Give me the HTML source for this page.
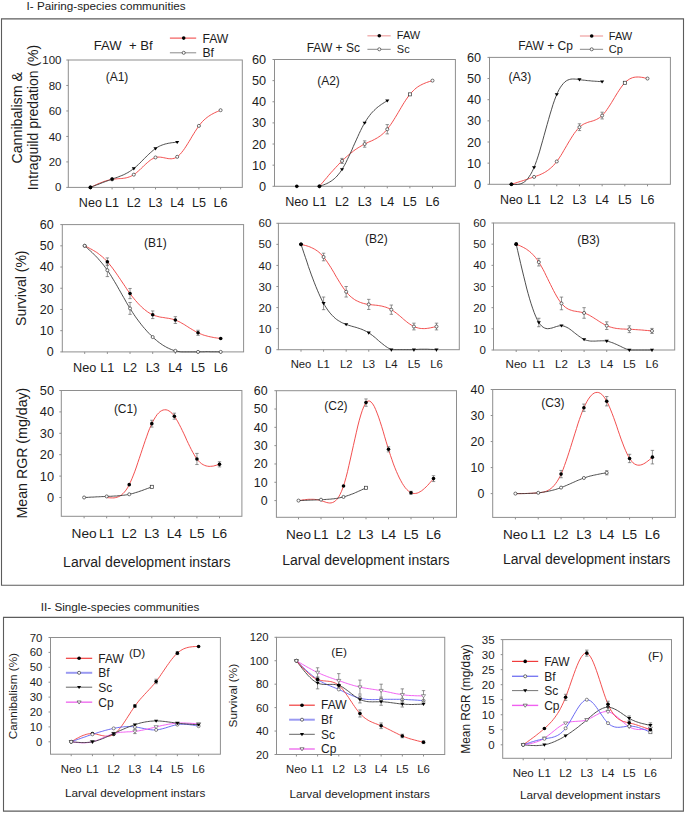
<!DOCTYPE html>
<html><head><meta charset="utf-8"><title>Figure</title>
<style>html,body{margin:0;padding:0;background:#fff;}svg{display:block;}text{font-family:"Liberation Sans", sans-serif;}</style>
</head><body>
<svg width="685" height="813" viewBox="0 0 685 813" font-family='"Liberation Sans", sans-serif'>
<rect width="685" height="813" fill="#fff"/>
<path d="M1.5,18.9V585.3H683.5V18.9Z" fill="none" stroke="#5c5c5c" stroke-width="1.1"/>
<path d="M3.5,617.4V811.1H683.4V617.4Z" fill="none" stroke="#5c5c5c" stroke-width="1.1"/>
<text x="26.50" y="9.60" font-size="11.7" text-anchor="start" fill="#1c1c1c">I- Pairing-species communities</text>
<text x="40.80" y="610.50" font-size="11.7" text-anchor="start" fill="#1c1c1c">II- Single-species communities</text>
<rect x="68.30" y="60.00" width="174.00" height="127.40" fill="none" stroke="#8e8e8e" stroke-width="1"/>
<line x1="66.30" y1="187.40" x2="68.30" y2="187.40" stroke="#8e8e8e" stroke-width="1"/>
<text x="61.46" y="191.47" font-size="11.5" text-anchor="end" fill="#1c1c1c">0</text>
<line x1="66.30" y1="161.92" x2="68.30" y2="161.92" stroke="#8e8e8e" stroke-width="1"/>
<text x="61.46" y="165.99" font-size="11.5" text-anchor="end" fill="#1c1c1c">20</text>
<line x1="66.30" y1="136.44" x2="68.30" y2="136.44" stroke="#8e8e8e" stroke-width="1"/>
<text x="61.46" y="140.51" font-size="11.5" text-anchor="end" fill="#1c1c1c">40</text>
<line x1="66.30" y1="110.96" x2="68.30" y2="110.96" stroke="#8e8e8e" stroke-width="1"/>
<text x="61.46" y="115.03" font-size="11.5" text-anchor="end" fill="#1c1c1c">60</text>
<line x1="66.30" y1="85.48" x2="68.30" y2="85.48" stroke="#8e8e8e" stroke-width="1"/>
<text x="61.46" y="89.55" font-size="11.5" text-anchor="end" fill="#1c1c1c">80</text>
<line x1="66.30" y1="60.00" x2="68.30" y2="60.00" stroke="#8e8e8e" stroke-width="1"/>
<text x="61.46" y="64.07" font-size="11.5" text-anchor="end" fill="#1c1c1c">100</text>
<line x1="90.40" y1="187.40" x2="90.40" y2="189.40" stroke="#8e8e8e" stroke-width="1"/>
<text x="90.40" y="207.10" font-size="12.6" text-anchor="middle" fill="#1c1c1c">Neo</text>
<line x1="112.10" y1="187.40" x2="112.10" y2="189.40" stroke="#8e8e8e" stroke-width="1"/>
<text x="112.10" y="207.10" font-size="12.6" text-anchor="middle" fill="#1c1c1c">L1</text>
<line x1="133.80" y1="187.40" x2="133.80" y2="189.40" stroke="#8e8e8e" stroke-width="1"/>
<text x="133.80" y="207.10" font-size="12.6" text-anchor="middle" fill="#1c1c1c">L2</text>
<line x1="155.50" y1="187.40" x2="155.50" y2="189.40" stroke="#8e8e8e" stroke-width="1"/>
<text x="155.50" y="207.10" font-size="12.6" text-anchor="middle" fill="#1c1c1c">L3</text>
<line x1="177.20" y1="187.40" x2="177.20" y2="189.40" stroke="#8e8e8e" stroke-width="1"/>
<text x="177.20" y="207.10" font-size="12.6" text-anchor="middle" fill="#1c1c1c">L4</text>
<line x1="198.90" y1="187.40" x2="198.90" y2="189.40" stroke="#8e8e8e" stroke-width="1"/>
<text x="198.90" y="207.10" font-size="12.6" text-anchor="middle" fill="#1c1c1c">L5</text>
<line x1="220.60" y1="187.40" x2="220.60" y2="189.40" stroke="#8e8e8e" stroke-width="1"/>
<text x="220.60" y="207.10" font-size="12.6" text-anchor="middle" fill="#1c1c1c">L6</text>
<path d="M90.4,187.4L91.9,186.7L93.4,186.0L94.9,185.3L96.4,184.6L97.9,183.9L99.4,183.3L100.9,182.7L102.4,182.1L103.9,181.5L105.4,181.0L106.9,180.6L108.4,180.2L109.9,179.8L111.4,179.5L112.8,179.3L114.3,179.1L115.8,178.9L117.3,178.8L118.8,178.7L120.3,178.6L121.8,178.5L123.3,178.3L124.8,178.1L126.3,177.8L127.8,177.4L129.3,176.9L130.8,176.3L132.3,175.5L133.8,174.7L135.3,173.6L136.8,172.4L138.3,171.1L139.8,169.8L141.3,168.3L142.8,166.9L144.3,165.4L145.8,164.0L147.3,162.7L148.8,161.4L150.3,160.2L151.8,159.2L153.3,158.4L154.8,157.7L156.2,157.3L157.7,157.1L159.2,157.1L160.7,157.2L162.2,157.4L163.7,157.7L165.2,158.0L166.7,158.3L168.2,158.6L169.7,158.7L171.2,158.8L172.7,158.6L174.2,158.3L175.7,157.7L177.2,156.8L178.7,155.6L180.2,154.2L181.7,152.4L183.2,150.5L184.7,148.4L186.2,146.1L187.7,143.7L189.2,141.3L190.7,138.8L192.2,136.2L193.7,133.8L195.2,131.4L196.7,129.1L198.2,126.9L199.6,124.9L201.1,123.1L202.6,121.4L204.1,119.9L205.6,118.6L207.1,117.4L208.6,116.3L210.1,115.3L211.6,114.4L213.1,113.6L214.6,112.8L216.1,112.1L217.6,111.5L219.1,110.8L220.6,110.2" fill="none" stroke="#f03c3c" stroke-width="0.9"/>
<path d="M90.4,187.4L91.9,186.8L93.4,186.2L94.9,185.6L96.4,185.0L97.9,184.5L99.4,183.9L100.9,183.3L102.4,182.7L103.9,182.1L105.4,181.6L106.9,181.0L108.4,180.5L109.9,179.9L111.4,179.4L112.8,178.9L114.3,178.3L115.8,177.8L117.3,177.3L118.8,176.7L120.3,176.1L121.8,175.5L123.3,174.9L124.8,174.2L126.3,173.4L127.8,172.6L129.3,171.7L130.8,170.7L132.3,169.7L133.8,168.5L135.3,167.3L136.8,166.0L138.3,164.6L139.8,163.1L141.3,161.7L142.8,160.1L144.3,158.6L145.8,157.1L147.3,155.6L148.8,154.2L150.3,152.8L151.8,151.5L153.3,150.2L154.8,149.1L156.2,148.0L157.7,147.1L159.2,146.3L160.7,145.6L162.2,145.0L163.7,144.5L165.2,144.0L166.7,143.7L168.2,143.3L169.7,143.1L171.2,142.8L172.7,142.6L174.2,142.5L175.7,142.3L177.2,142.2" fill="none" stroke="#3a3a3a" stroke-width="0.9"/>
<circle cx="90.40" cy="187.40" r="1.80" fill="#000"/>
<circle cx="112.10" cy="179.37" r="1.53" fill="#fff" stroke="#333" stroke-width="0.7"/>
<circle cx="133.80" cy="174.66" r="1.53" fill="#fff" stroke="#333" stroke-width="0.7"/>
<circle cx="155.50" cy="157.46" r="1.53" fill="#fff" stroke="#333" stroke-width="0.7"/>
<circle cx="177.20" cy="156.82" r="1.53" fill="#fff" stroke="#333" stroke-width="0.7"/>
<circle cx="198.90" cy="125.87" r="1.53" fill="#fff" stroke="#333" stroke-width="0.7"/>
<circle cx="220.60" cy="110.20" r="1.53" fill="#fff" stroke="#333" stroke-width="0.7"/>
<circle cx="90.40" cy="187.40" r="1.80" fill="#000"/>
<circle cx="112.10" cy="179.12" r="1.80" fill="#000"/>
<path d="M131.73,167.30L135.87,167.30L133.80,170.41Z" fill="#000"/>
<path d="M153.43,147.30L157.57,147.30L155.50,150.41Z" fill="#000"/>
<path d="M175.13,140.93L179.27,140.93L177.20,144.04Z" fill="#000"/>
<text x="105.68" y="81.10" font-size="12" text-anchor="start" fill="#1c1c1c">(A1)</text>
<rect x="274.50" y="59.50" width="180.90" height="126.80" fill="none" stroke="#8e8e8e" stroke-width="1"/>
<line x1="272.50" y1="186.30" x2="274.50" y2="186.30" stroke="#8e8e8e" stroke-width="1"/>
<text x="266.11" y="190.80" font-size="12.7" text-anchor="end" fill="#1c1c1c">0</text>
<line x1="272.50" y1="165.17" x2="274.50" y2="165.17" stroke="#8e8e8e" stroke-width="1"/>
<text x="266.11" y="169.66" font-size="12.7" text-anchor="end" fill="#1c1c1c">10</text>
<line x1="272.50" y1="144.03" x2="274.50" y2="144.03" stroke="#8e8e8e" stroke-width="1"/>
<text x="266.11" y="148.53" font-size="12.7" text-anchor="end" fill="#1c1c1c">20</text>
<line x1="272.50" y1="122.90" x2="274.50" y2="122.90" stroke="#8e8e8e" stroke-width="1"/>
<text x="266.11" y="127.40" font-size="12.7" text-anchor="end" fill="#1c1c1c">30</text>
<line x1="272.50" y1="101.77" x2="274.50" y2="101.77" stroke="#8e8e8e" stroke-width="1"/>
<text x="266.11" y="106.26" font-size="12.7" text-anchor="end" fill="#1c1c1c">40</text>
<line x1="272.50" y1="80.63" x2="274.50" y2="80.63" stroke="#8e8e8e" stroke-width="1"/>
<text x="266.11" y="85.13" font-size="12.7" text-anchor="end" fill="#1c1c1c">50</text>
<line x1="272.50" y1="59.50" x2="274.50" y2="59.50" stroke="#8e8e8e" stroke-width="1"/>
<text x="266.11" y="64.00" font-size="12.7" text-anchor="end" fill="#1c1c1c">60</text>
<line x1="296.80" y1="186.30" x2="296.80" y2="188.30" stroke="#8e8e8e" stroke-width="1"/>
<text x="296.80" y="206.00" font-size="12.6" text-anchor="middle" fill="#1c1c1c">Neo</text>
<line x1="319.42" y1="186.30" x2="319.42" y2="188.30" stroke="#8e8e8e" stroke-width="1"/>
<text x="319.42" y="206.00" font-size="12.6" text-anchor="middle" fill="#1c1c1c">L1</text>
<line x1="342.03" y1="186.30" x2="342.03" y2="188.30" stroke="#8e8e8e" stroke-width="1"/>
<text x="342.03" y="206.00" font-size="12.6" text-anchor="middle" fill="#1c1c1c">L2</text>
<line x1="364.65" y1="186.30" x2="364.65" y2="188.30" stroke="#8e8e8e" stroke-width="1"/>
<text x="364.65" y="206.00" font-size="12.6" text-anchor="middle" fill="#1c1c1c">L3</text>
<line x1="387.27" y1="186.30" x2="387.27" y2="188.30" stroke="#8e8e8e" stroke-width="1"/>
<text x="387.27" y="206.00" font-size="12.6" text-anchor="middle" fill="#1c1c1c">L4</text>
<line x1="409.88" y1="186.30" x2="409.88" y2="188.30" stroke="#8e8e8e" stroke-width="1"/>
<text x="409.88" y="206.00" font-size="12.6" text-anchor="middle" fill="#1c1c1c">L5</text>
<line x1="432.50" y1="186.30" x2="432.50" y2="188.30" stroke="#8e8e8e" stroke-width="1"/>
<text x="432.50" y="206.00" font-size="12.6" text-anchor="middle" fill="#1c1c1c">L6</text>
<path d="M319.4,186.3L320.9,184.5L322.4,182.8L323.9,181.0L325.4,179.2L326.9,177.5L328.3,175.7L329.8,174.0L331.3,172.3L332.8,170.7L334.3,169.0L335.8,167.4L337.3,165.8L338.8,164.2L340.2,162.7L341.7,161.2L343.2,159.8L344.7,158.4L346.2,157.0L347.7,155.7L349.2,154.5L350.7,153.2L352.2,152.1L353.6,150.9L355.1,149.8L356.6,148.8L358.1,147.8L359.6,146.9L361.1,146.0L362.6,145.1L364.1,144.3L365.5,143.6L367.0,142.9L368.5,142.2L370.0,141.5L371.5,140.9L373.0,140.2L374.5,139.4L376.0,138.6L377.4,137.8L378.9,136.8L380.4,135.8L381.9,134.6L383.4,133.3L384.9,131.9L386.4,130.3L387.9,128.5L389.3,126.5L390.8,124.4L392.3,122.2L393.8,119.8L395.3,117.4L396.8,114.9L398.3,112.4L399.8,109.8L401.3,107.3L402.7,104.9L404.2,102.5L405.7,100.2L407.2,98.0L408.7,95.9L410.2,94.0L411.7,92.3L413.2,90.8L414.6,89.4L416.1,88.1L417.6,87.0L419.1,86.0L420.6,85.2L422.1,84.4L423.6,83.7L425.1,83.1L426.5,82.5L428.0,82.0L429.5,81.5L431.0,81.1L432.5,80.6" fill="none" stroke="#f03c3c" stroke-width="0.9"/>
<path d="M319.4,186.3L320.9,185.8L322.4,185.3L323.8,184.8L325.3,184.2L326.8,183.6L328.3,182.8L329.7,182.0L331.2,181.1L332.7,180.0L334.2,178.8L335.6,177.5L337.1,176.0L338.6,174.2L340.1,172.3L341.5,170.2L343.0,167.8L344.5,165.2L346.0,162.4L347.4,159.4L348.9,156.3L350.4,153.1L351.9,149.9L353.3,146.5L354.8,143.2L356.3,139.9L357.8,136.6L359.2,133.5L360.7,130.4L362.2,127.4L363.7,124.6L365.1,122.1L366.6,119.7L368.1,117.5L369.6,115.5L371.0,113.7L372.5,112.0L374.0,110.5L375.5,109.1L376.9,107.8L378.4,106.6L379.9,105.5L381.4,104.4L382.8,103.5L384.3,102.5L385.8,101.6L387.3,100.7" fill="none" stroke="#3a3a3a" stroke-width="0.9"/>
<path d="M296.8,186.3" fill="none" stroke="#3a3a3a" stroke-width="0.9"/>
<path d="M342.03,158.40V163.48M340.33,158.40H343.73M340.33,163.48H343.73" stroke="#666" stroke-width="0.7" fill="none"/>
<path d="M364.65,140.86V147.20M362.95,140.86H366.35M362.95,147.20H366.35" stroke="#666" stroke-width="0.7" fill="none"/>
<path d="M387.27,124.59V133.89M385.57,124.59H388.97M385.57,133.89H388.97" stroke="#666" stroke-width="0.7" fill="none"/>
<circle cx="319.42" cy="186.30" r="1.53" fill="#fff" stroke="#333" stroke-width="0.7"/>
<circle cx="342.03" cy="160.94" r="1.53" fill="#fff" stroke="#333" stroke-width="0.7"/>
<circle cx="364.65" cy="144.03" r="1.53" fill="#fff" stroke="#333" stroke-width="0.7"/>
<circle cx="387.27" cy="129.24" r="1.53" fill="#fff" stroke="#333" stroke-width="0.7"/>
<rect x="408.35" y="92.84" width="3.06" height="3.06" fill="#fff" stroke="#333" stroke-width="0.7"/>
<circle cx="432.50" cy="80.63" r="1.53" fill="#fff" stroke="#333" stroke-width="0.7"/>
<circle cx="319.42" cy="186.30" r="1.80" fill="#000"/>
<path d="M339.96,168.15L344.10,168.15L342.03,171.26Z" fill="#000"/>
<path d="M362.58,121.66L366.72,121.66L364.65,124.76Z" fill="#000"/>
<path d="M385.20,99.47L389.34,99.47L387.27,102.57Z" fill="#000"/>
<circle cx="296.80" cy="186.30" r="1.80" fill="#000"/>
<text x="317.18" y="85.10" font-size="12" text-anchor="start" fill="#1c1c1c">(A2)</text>
<rect x="489.50" y="57.40" width="180.90" height="126.90" fill="none" stroke="#8e8e8e" stroke-width="1"/>
<line x1="487.50" y1="184.30" x2="489.50" y2="184.30" stroke="#8e8e8e" stroke-width="1"/>
<text x="481.11" y="188.80" font-size="12.7" text-anchor="end" fill="#1c1c1c">0</text>
<line x1="487.50" y1="163.15" x2="489.50" y2="163.15" stroke="#8e8e8e" stroke-width="1"/>
<text x="481.11" y="167.65" font-size="12.7" text-anchor="end" fill="#1c1c1c">10</text>
<line x1="487.50" y1="142.00" x2="489.50" y2="142.00" stroke="#8e8e8e" stroke-width="1"/>
<text x="481.11" y="146.50" font-size="12.7" text-anchor="end" fill="#1c1c1c">20</text>
<line x1="487.50" y1="120.85" x2="489.50" y2="120.85" stroke="#8e8e8e" stroke-width="1"/>
<text x="481.11" y="125.35" font-size="12.7" text-anchor="end" fill="#1c1c1c">30</text>
<line x1="487.50" y1="99.70" x2="489.50" y2="99.70" stroke="#8e8e8e" stroke-width="1"/>
<text x="481.11" y="104.20" font-size="12.7" text-anchor="end" fill="#1c1c1c">40</text>
<line x1="487.50" y1="78.55" x2="489.50" y2="78.55" stroke="#8e8e8e" stroke-width="1"/>
<text x="481.11" y="83.05" font-size="12.7" text-anchor="end" fill="#1c1c1c">50</text>
<line x1="487.50" y1="57.40" x2="489.50" y2="57.40" stroke="#8e8e8e" stroke-width="1"/>
<text x="481.11" y="61.90" font-size="12.7" text-anchor="end" fill="#1c1c1c">60</text>
<line x1="511.40" y1="184.30" x2="511.40" y2="186.30" stroke="#8e8e8e" stroke-width="1"/>
<text x="511.40" y="204.00" font-size="12.4" text-anchor="middle" fill="#1c1c1c">Neo</text>
<line x1="534.08" y1="184.30" x2="534.08" y2="186.30" stroke="#8e8e8e" stroke-width="1"/>
<text x="534.08" y="204.00" font-size="12.4" text-anchor="middle" fill="#1c1c1c">L1</text>
<line x1="556.77" y1="184.30" x2="556.77" y2="186.30" stroke="#8e8e8e" stroke-width="1"/>
<text x="556.77" y="204.00" font-size="12.4" text-anchor="middle" fill="#1c1c1c">L2</text>
<line x1="579.45" y1="184.30" x2="579.45" y2="186.30" stroke="#8e8e8e" stroke-width="1"/>
<text x="579.45" y="204.00" font-size="12.4" text-anchor="middle" fill="#1c1c1c">L3</text>
<line x1="602.13" y1="184.30" x2="602.13" y2="186.30" stroke="#8e8e8e" stroke-width="1"/>
<text x="602.13" y="204.00" font-size="12.4" text-anchor="middle" fill="#1c1c1c">L4</text>
<line x1="624.82" y1="184.30" x2="624.82" y2="186.30" stroke="#8e8e8e" stroke-width="1"/>
<text x="624.82" y="204.00" font-size="12.4" text-anchor="middle" fill="#1c1c1c">L5</text>
<line x1="647.50" y1="184.30" x2="647.50" y2="186.30" stroke="#8e8e8e" stroke-width="1"/>
<text x="647.50" y="204.00" font-size="12.4" text-anchor="middle" fill="#1c1c1c">L6</text>
<path d="M511.4,184.3L512.9,183.8L514.4,183.4L515.9,182.9L517.4,182.4L518.9,181.9L520.4,181.4L521.9,181.0L523.4,180.5L524.9,180.0L526.4,179.5L527.9,179.0L529.3,178.5L530.8,178.0L532.3,177.5L533.8,177.0L535.3,176.5L536.8,175.9L538.3,175.4L539.8,174.8L541.3,174.1L542.8,173.4L544.3,172.6L545.8,171.7L547.3,170.7L548.8,169.6L550.3,168.4L551.8,167.1L553.3,165.6L554.8,163.9L556.3,162.1L557.8,160.1L559.3,157.9L560.8,155.6L562.3,153.2L563.7,150.7L565.2,148.2L566.7,145.6L568.2,143.0L569.7,140.5L571.2,138.1L572.7,135.7L574.2,133.5L575.7,131.5L577.2,129.6L578.7,127.9L580.2,126.5L581.7,125.4L583.2,124.4L584.7,123.6L586.2,123.0L587.7,122.4L589.2,121.9L590.7,121.5L592.2,121.1L593.7,120.6L595.2,120.0L596.6,119.4L598.1,118.6L599.6,117.6L601.1,116.5L602.6,115.1L604.1,113.4L605.6,111.5L607.1,109.4L608.6,107.2L610.1,104.9L611.6,102.5L613.1,100.0L614.6,97.5L616.1,95.0L617.6,92.6L619.1,90.3L620.6,88.1L622.1,86.0L623.6,84.2L625.1,82.5L626.6,81.1L628.1,80.0L629.6,79.0L631.0,78.3L632.5,77.7L634.0,77.3L635.5,77.1L637.0,77.0L638.5,77.0L640.0,77.1L641.5,77.3L643.0,77.5L644.5,77.9L646.0,78.2L647.5,78.6" fill="none" stroke="#f03c3c" stroke-width="0.9"/>
<path d="M511.4,184.3L512.9,184.4L514.4,184.5L515.9,184.5L517.3,184.5L518.8,184.3L520.3,183.9L521.8,183.4L523.3,182.6L524.8,181.6L526.3,180.3L527.8,178.6L529.2,176.6L530.7,174.3L532.2,171.5L533.7,168.3L535.2,164.6L536.7,160.4L538.2,155.9L539.7,151.1L541.1,146.0L542.6,140.8L544.1,135.4L545.6,130.0L547.1,124.6L548.6,119.3L550.1,114.1L551.6,109.2L553.0,104.5L554.5,100.2L556.0,96.2L557.5,92.7L559.0,89.7L560.5,87.2L562.0,85.1L563.5,83.3L564.9,81.9L566.4,80.8L567.9,80.0L569.4,79.5L570.9,79.1L572.4,79.0L573.9,79.0L575.4,79.1L576.8,79.2L578.3,79.4L579.8,79.7L581.3,79.9L582.8,80.1L584.3,80.2L585.8,80.4L587.3,80.6L588.7,80.7L590.2,80.8L591.7,81.0L593.2,81.1L594.7,81.2L596.2,81.3L597.7,81.4L599.2,81.5L600.6,81.6L602.1,81.7" fill="none" stroke="#3a3a3a" stroke-width="0.9"/>
<path d="M579.45,123.81V130.58M577.75,123.81H581.15M577.75,130.58H581.15" stroke="#666" stroke-width="0.7" fill="none"/>
<path d="M602.13,112.18V118.95M600.43,112.18H603.83M600.43,118.95H603.83" stroke="#666" stroke-width="0.7" fill="none"/>
<circle cx="511.40" cy="184.30" r="1.80" fill="#000"/>
<circle cx="534.08" cy="176.90" r="1.53" fill="#fff" stroke="#333" stroke-width="0.7"/>
<circle cx="556.77" cy="161.46" r="1.53" fill="#fff" stroke="#333" stroke-width="0.7"/>
<circle cx="579.45" cy="127.20" r="1.53" fill="#fff" stroke="#333" stroke-width="0.7"/>
<circle cx="602.13" cy="115.56" r="1.53" fill="#fff" stroke="#333" stroke-width="0.7"/>
<rect x="623.29" y="81.25" width="3.06" height="3.06" fill="#fff" stroke="#333" stroke-width="0.7"/>
<circle cx="647.50" cy="78.55" r="1.53" fill="#fff" stroke="#333" stroke-width="0.7"/>
<circle cx="511.40" cy="184.30" r="1.80" fill="#000"/>
<path d="M532.01,166.14L536.15,166.14L534.08,169.24Z" fill="#000"/>
<path d="M554.70,93.17L558.84,93.17L556.77,96.28Z" fill="#000"/>
<path d="M577.38,78.37L581.52,78.37L579.45,81.47Z" fill="#000"/>
<path d="M600.06,80.48L604.20,80.48L602.13,83.59Z" fill="#000"/>
<text x="508.58" y="81.30" font-size="12" text-anchor="start" fill="#1c1c1c">(A3)</text>
<text x="93.80" y="49.50" font-size="13.1" text-anchor="start" fill="#1c1c1c">FAW&#160; + Bf</text>
<line x1="169.90" y1="38.10" x2="196.20" y2="38.10" stroke="#f03c3c" stroke-width="1"/>
<circle cx="183.70" cy="38.10" r="1.80" fill="#000"/>
<text x="202.42" y="42.50" font-size="12.2" text-anchor="start" fill="#1c1c1c">FAW</text>
<line x1="169.90" y1="52.80" x2="196.20" y2="52.80" stroke="#8a8a8a" stroke-width="1"/>
<circle cx="183.70" cy="52.80" r="1.53" fill="#fff" stroke="#333" stroke-width="0.7"/>
<text x="202.42" y="57.20" font-size="12.2" text-anchor="start" fill="#1c1c1c">Bf</text>
<text x="306.70" y="52.10" font-size="12.0" text-anchor="start" fill="#1c1c1c">FAW + Sc</text>
<line x1="367.40" y1="35.80" x2="390.70" y2="35.80" stroke="#f0a8a8" stroke-width="1.3"/>
<circle cx="379.30" cy="35.80" r="1.80" fill="#000"/>
<text x="396.82" y="39.40" font-size="11.0" text-anchor="start" fill="#1c1c1c">FAW</text>
<line x1="367.40" y1="49.30" x2="390.70" y2="49.30" stroke="#888" stroke-width="1"/>
<circle cx="379.30" cy="49.30" r="1.53" fill="#fff" stroke="#333" stroke-width="0.7"/>
<text x="396.82" y="52.90" font-size="11.0" text-anchor="start" fill="#1c1c1c">Sc</text>
<text x="518.30" y="50.20" font-size="12.0" text-anchor="start" fill="#1c1c1c">FAW + Cp</text>
<line x1="579.90" y1="36.00" x2="603.10" y2="36.00" stroke="#f0a8a8" stroke-width="1.3"/>
<circle cx="591.70" cy="36.00" r="1.80" fill="#000"/>
<text x="608.82" y="39.60" font-size="11.0" text-anchor="start" fill="#1c1c1c">FAW</text>
<line x1="579.90" y1="49.30" x2="603.10" y2="49.30" stroke="#888" stroke-width="1"/>
<circle cx="591.70" cy="49.30" r="1.53" fill="#fff" stroke="#333" stroke-width="0.7"/>
<text x="608.82" y="52.90" font-size="11.0" text-anchor="start" fill="#1c1c1c">Cp</text>
<text x="22.00" y="117.80" font-size="14.2" text-anchor="middle" fill="#1c1c1c" transform="rotate(-90 22.00 117.80)">Cannibalism &amp;</text>
<text x="37.60" y="117.60" font-size="14.0" text-anchor="middle" fill="#1c1c1c" transform="rotate(-90 37.60 117.60)">Intraguild predation (%)</text>
<rect x="62.30" y="224.60" width="181.30" height="127.30" fill="none" stroke="#8e8e8e" stroke-width="1"/>
<line x1="60.30" y1="351.90" x2="62.30" y2="351.90" stroke="#8e8e8e" stroke-width="1"/>
<text x="53.60" y="356.32" font-size="12.5" text-anchor="end" fill="#1c1c1c">0</text>
<line x1="60.30" y1="330.68" x2="62.30" y2="330.68" stroke="#8e8e8e" stroke-width="1"/>
<text x="53.60" y="335.11" font-size="12.5" text-anchor="end" fill="#1c1c1c">10</text>
<line x1="60.30" y1="309.47" x2="62.30" y2="309.47" stroke="#8e8e8e" stroke-width="1"/>
<text x="53.60" y="313.89" font-size="12.5" text-anchor="end" fill="#1c1c1c">20</text>
<line x1="60.30" y1="288.25" x2="62.30" y2="288.25" stroke="#8e8e8e" stroke-width="1"/>
<text x="53.60" y="292.68" font-size="12.5" text-anchor="end" fill="#1c1c1c">30</text>
<line x1="60.30" y1="267.03" x2="62.30" y2="267.03" stroke="#8e8e8e" stroke-width="1"/>
<text x="53.60" y="271.46" font-size="12.5" text-anchor="end" fill="#1c1c1c">40</text>
<line x1="60.30" y1="245.82" x2="62.30" y2="245.82" stroke="#8e8e8e" stroke-width="1"/>
<text x="53.60" y="250.24" font-size="12.5" text-anchor="end" fill="#1c1c1c">50</text>
<line x1="60.30" y1="224.60" x2="62.30" y2="224.60" stroke="#8e8e8e" stroke-width="1"/>
<text x="53.60" y="229.03" font-size="12.5" text-anchor="end" fill="#1c1c1c">60</text>
<line x1="84.70" y1="351.90" x2="84.70" y2="353.90" stroke="#8e8e8e" stroke-width="1"/>
<text x="84.70" y="372.00" font-size="12.7" text-anchor="middle" fill="#1c1c1c">Neo</text>
<line x1="107.37" y1="351.90" x2="107.37" y2="353.90" stroke="#8e8e8e" stroke-width="1"/>
<text x="107.37" y="372.00" font-size="12.7" text-anchor="middle" fill="#1c1c1c">L1</text>
<line x1="130.03" y1="351.90" x2="130.03" y2="353.90" stroke="#8e8e8e" stroke-width="1"/>
<text x="130.03" y="372.00" font-size="12.7" text-anchor="middle" fill="#1c1c1c">L2</text>
<line x1="152.70" y1="351.90" x2="152.70" y2="353.90" stroke="#8e8e8e" stroke-width="1"/>
<text x="152.70" y="372.00" font-size="12.7" text-anchor="middle" fill="#1c1c1c">L3</text>
<line x1="175.37" y1="351.90" x2="175.37" y2="353.90" stroke="#8e8e8e" stroke-width="1"/>
<text x="175.37" y="372.00" font-size="12.7" text-anchor="middle" fill="#1c1c1c">L4</text>
<line x1="198.03" y1="351.90" x2="198.03" y2="353.90" stroke="#8e8e8e" stroke-width="1"/>
<text x="198.03" y="372.00" font-size="12.7" text-anchor="middle" fill="#1c1c1c">L5</text>
<line x1="220.70" y1="351.90" x2="220.70" y2="353.90" stroke="#8e8e8e" stroke-width="1"/>
<text x="220.70" y="372.00" font-size="12.7" text-anchor="middle" fill="#1c1c1c">L6</text>
<path d="M84.7,245.8L86.2,246.6L87.7,247.3L89.2,248.1L90.7,248.9L92.2,249.7L93.7,250.6L95.2,251.5L96.7,252.4L98.2,253.5L99.6,254.6L101.1,255.8L102.6,257.0L104.1,258.4L105.6,259.9L107.1,261.5L108.6,263.2L110.1,265.0L111.6,266.9L113.1,268.9L114.6,271.0L116.1,273.1L117.6,275.3L119.1,277.5L120.6,279.7L122.1,282.0L123.6,284.2L125.1,286.4L126.5,288.6L128.0,290.8L129.5,292.9L131.0,294.9L132.5,296.9L134.0,298.7L135.5,300.5L137.0,302.2L138.5,303.9L140.0,305.4L141.5,306.9L143.0,308.3L144.5,309.5L146.0,310.7L147.5,311.8L149.0,312.8L150.5,313.7L152.0,314.4L153.4,315.1L154.9,315.7L156.4,316.1L157.9,316.5L159.4,316.9L160.9,317.2L162.4,317.4L163.9,317.6L165.4,317.9L166.9,318.1L168.4,318.3L169.9,318.6L171.4,318.9L172.9,319.3L174.4,319.7L175.9,320.3L177.4,320.9L178.9,321.6L180.3,322.3L181.8,323.2L183.3,324.0L184.8,324.9L186.3,325.9L187.8,326.8L189.3,327.8L190.8,328.7L192.3,329.6L193.8,330.5L195.3,331.4L196.8,332.2L198.3,332.9L199.8,333.6L201.3,334.2L202.8,334.8L204.3,335.3L205.8,335.7L207.2,336.1L208.7,336.5L210.2,336.8L211.7,337.1L213.2,337.4L214.7,337.7L216.2,337.9L217.7,338.1L219.2,338.3L220.7,338.5" fill="none" stroke="#f03c3c" stroke-width="0.9"/>
<path d="M84.7,245.8L86.2,247.2L87.7,248.5L89.2,249.9L90.7,251.2L92.2,252.6L93.7,254.1L95.2,255.6L96.7,257.1L98.2,258.7L99.6,260.4L101.1,262.1L102.6,263.9L104.1,265.8L105.6,267.8L107.1,269.9L108.6,272.0L110.1,274.3L111.6,276.7L113.1,279.2L114.6,281.7L116.1,284.2L117.6,286.8L119.1,289.5L120.6,292.1L122.1,294.8L123.6,297.4L125.1,300.0L126.5,302.6L128.0,305.1L129.5,307.6L131.0,310.0L132.5,312.3L134.0,314.6L135.5,316.8L137.0,318.9L138.5,320.9L140.0,322.9L141.5,324.8L143.0,326.7L144.5,328.4L146.0,330.1L147.5,331.8L149.0,333.4L150.5,334.9L152.0,336.3L153.4,337.7L154.9,339.1L156.4,340.3L157.9,341.6L159.4,342.7L160.9,343.8L162.4,344.8L163.9,345.8L165.4,346.6L166.9,347.5L168.4,348.2L169.9,348.9L171.4,349.5L172.9,350.1L174.4,350.6L175.9,351.0L177.4,351.3L178.9,351.6L180.3,351.8L181.8,351.9L183.3,351.9L184.8,351.9L186.3,351.9L187.8,351.9L189.3,351.9L190.8,351.9L192.3,351.9L193.8,351.9L195.3,351.9L196.8,351.9L198.3,351.9L199.8,351.8L201.3,351.8L202.8,351.8L204.3,351.8L205.8,351.7L207.2,351.7L208.7,351.7L210.2,351.8L211.7,351.8L213.2,351.8L214.7,351.8L216.2,351.8L217.7,351.8L219.2,351.9L220.7,351.9" fill="none" stroke="#3a3a3a" stroke-width="0.9"/>
<path d="M107.37,257.91V265.55M105.67,257.91H109.07M105.67,265.55H109.07" stroke="#666" stroke-width="0.7" fill="none"/>
<path d="M130.03,288.46V298.65M128.33,288.46H131.73M128.33,298.65H131.73" stroke="#666" stroke-width="0.7" fill="none"/>
<path d="M152.70,310.95V318.59M151.00,310.95H154.40M151.00,318.59H154.40" stroke="#666" stroke-width="0.7" fill="none"/>
<path d="M175.37,316.68V323.47M173.67,316.68H177.07M173.67,323.47H177.07" stroke="#666" stroke-width="0.7" fill="none"/>
<path d="M198.03,330.26V335.35M196.33,330.26H199.73M196.33,335.35H199.73" stroke="#666" stroke-width="0.7" fill="none"/>
<circle cx="84.70" cy="245.82" r="1.53" fill="#fff" stroke="#333" stroke-width="0.7"/>
<circle cx="107.37" cy="261.73" r="1.80" fill="#000"/>
<circle cx="130.03" cy="293.55" r="1.80" fill="#000"/>
<circle cx="152.70" cy="314.77" r="1.80" fill="#000"/>
<circle cx="175.37" cy="320.07" r="1.80" fill="#000"/>
<circle cx="198.03" cy="332.81" r="1.80" fill="#000"/>
<circle cx="220.70" cy="338.53" r="1.80" fill="#000"/>
<path d="M107.37,263.85V276.58M105.67,263.85H109.07M105.67,276.58H109.07" stroke="#666" stroke-width="0.7" fill="none"/>
<path d="M130.03,302.47V314.35M128.33,302.47H131.73M128.33,314.35H131.73" stroke="#666" stroke-width="0.7" fill="none"/>
<circle cx="84.70" cy="245.82" r="1.53" fill="#fff" stroke="#333" stroke-width="0.7"/>
<circle cx="107.37" cy="270.22" r="1.53" fill="#fff" stroke="#333" stroke-width="0.7"/>
<circle cx="130.03" cy="308.41" r="1.53" fill="#fff" stroke="#333" stroke-width="0.7"/>
<circle cx="152.70" cy="337.05" r="1.53" fill="#fff" stroke="#333" stroke-width="0.7"/>
<circle cx="175.37" cy="350.84" r="1.53" fill="#fff" stroke="#333" stroke-width="0.7"/>
<circle cx="198.03" cy="351.90" r="1.53" fill="#fff" stroke="#333" stroke-width="0.7"/>
<circle cx="220.70" cy="351.90" r="1.53" fill="#fff" stroke="#333" stroke-width="0.7"/>
<text x="143.98" y="247.30" font-size="12" text-anchor="start" fill="#1c1c1c">(B1)</text>
<rect x="278.40" y="223.30" width="180.90" height="126.40" fill="none" stroke="#8e8e8e" stroke-width="1"/>
<line x1="276.40" y1="349.70" x2="278.40" y2="349.70" stroke="#8e8e8e" stroke-width="1"/>
<text x="271.36" y="353.81" font-size="11.6" text-anchor="end" fill="#1c1c1c">0</text>
<line x1="276.40" y1="328.63" x2="278.40" y2="328.63" stroke="#8e8e8e" stroke-width="1"/>
<text x="271.36" y="332.74" font-size="11.6" text-anchor="end" fill="#1c1c1c">10</text>
<line x1="276.40" y1="307.57" x2="278.40" y2="307.57" stroke="#8e8e8e" stroke-width="1"/>
<text x="271.36" y="311.67" font-size="11.6" text-anchor="end" fill="#1c1c1c">20</text>
<line x1="276.40" y1="286.50" x2="278.40" y2="286.50" stroke="#8e8e8e" stroke-width="1"/>
<text x="271.36" y="290.61" font-size="11.6" text-anchor="end" fill="#1c1c1c">30</text>
<line x1="276.40" y1="265.43" x2="278.40" y2="265.43" stroke="#8e8e8e" stroke-width="1"/>
<text x="271.36" y="269.54" font-size="11.6" text-anchor="end" fill="#1c1c1c">40</text>
<line x1="276.40" y1="244.37" x2="278.40" y2="244.37" stroke="#8e8e8e" stroke-width="1"/>
<text x="271.36" y="248.47" font-size="11.6" text-anchor="end" fill="#1c1c1c">50</text>
<line x1="276.40" y1="223.30" x2="278.40" y2="223.30" stroke="#8e8e8e" stroke-width="1"/>
<text x="271.36" y="227.41" font-size="11.6" text-anchor="end" fill="#1c1c1c">60</text>
<line x1="301.00" y1="349.70" x2="301.00" y2="351.70" stroke="#8e8e8e" stroke-width="1"/>
<text x="301.00" y="368.00" font-size="11.3" text-anchor="middle" fill="#1c1c1c">Neo</text>
<line x1="323.58" y1="349.70" x2="323.58" y2="351.70" stroke="#8e8e8e" stroke-width="1"/>
<text x="323.58" y="368.00" font-size="11.3" text-anchor="middle" fill="#1c1c1c">L1</text>
<line x1="346.17" y1="349.70" x2="346.17" y2="351.70" stroke="#8e8e8e" stroke-width="1"/>
<text x="346.17" y="368.00" font-size="11.3" text-anchor="middle" fill="#1c1c1c">L2</text>
<line x1="368.75" y1="349.70" x2="368.75" y2="351.70" stroke="#8e8e8e" stroke-width="1"/>
<text x="368.75" y="368.00" font-size="11.3" text-anchor="middle" fill="#1c1c1c">L3</text>
<line x1="391.33" y1="349.70" x2="391.33" y2="351.70" stroke="#8e8e8e" stroke-width="1"/>
<text x="391.33" y="368.00" font-size="11.3" text-anchor="middle" fill="#1c1c1c">L4</text>
<line x1="413.92" y1="349.70" x2="413.92" y2="351.70" stroke="#8e8e8e" stroke-width="1"/>
<text x="413.92" y="368.00" font-size="11.3" text-anchor="middle" fill="#1c1c1c">L5</text>
<line x1="436.50" y1="349.70" x2="436.50" y2="351.70" stroke="#8e8e8e" stroke-width="1"/>
<text x="436.50" y="368.00" font-size="11.3" text-anchor="middle" fill="#1c1c1c">L6</text>
<path d="M301.0,244.4L302.5,244.7L304.0,245.1L305.5,245.5L307.0,245.9L308.4,246.4L309.9,246.9L311.4,247.6L312.9,248.3L314.4,249.1L315.9,250.0L317.4,251.0L318.9,252.2L320.4,253.5L321.8,255.0L323.3,256.7L324.8,258.6L326.3,260.6L327.8,262.8L329.3,265.1L330.8,267.4L332.3,269.9L333.8,272.4L335.2,274.9L336.7,277.5L338.2,279.9L339.7,282.4L341.2,284.8L342.7,287.0L344.2,289.2L345.7,291.1L347.2,293.0L348.6,294.6L350.1,296.1L351.6,297.4L353.1,298.5L354.6,299.6L356.1,300.5L357.6,301.2L359.1,301.9L360.6,302.5L362.0,303.0L363.5,303.4L365.0,303.8L366.5,304.1L368.0,304.3L369.5,304.5L371.0,304.7L372.5,304.9L374.0,305.0L375.5,305.2L376.9,305.3L378.4,305.5L379.9,305.8L381.4,306.0L382.9,306.4L384.4,306.8L385.9,307.2L387.4,307.8L388.9,308.4L390.3,309.1L391.8,310.0L393.3,310.9L394.8,312.0L396.3,313.1L397.8,314.3L399.3,315.5L400.8,316.8L402.3,318.1L403.7,319.4L405.2,320.6L406.7,321.8L408.2,323.0L409.7,324.0L411.2,325.0L412.7,325.9L414.2,326.6L415.7,327.3L417.1,327.7L418.6,328.1L420.1,328.4L421.6,328.5L423.1,328.6L424.6,328.6L426.1,328.5L427.6,328.3L429.1,328.1L430.5,327.8L432.0,327.5L433.5,327.2L435.0,326.9L436.5,326.5" fill="none" stroke="#f03c3c" stroke-width="0.9"/>
<path d="M301.0,244.4L302.5,248.8L304.0,253.3L305.5,257.7L307.0,262.1L308.4,266.5L309.9,270.7L311.4,274.9L312.9,278.9L314.4,282.8L315.9,286.6L317.4,290.2L318.9,293.7L320.4,297.0L321.8,300.0L323.3,302.9L324.8,305.5L326.3,307.9L327.8,310.1L329.3,312.1L330.8,313.9L332.3,315.5L333.8,317.0L335.2,318.3L336.7,319.5L338.2,320.5L339.7,321.4L341.2,322.3L342.7,323.0L344.2,323.6L345.7,324.2L347.2,324.8L348.6,325.3L350.1,325.7L351.6,326.2L353.1,326.6L354.6,327.0L356.1,327.4L357.6,327.9L359.1,328.4L360.6,328.9L362.0,329.4L363.5,330.1L365.0,330.8L366.5,331.5L368.0,332.4L369.5,333.3L371.0,334.4L372.5,335.5L374.0,336.7L375.5,337.9L376.9,339.2L378.4,340.5L379.9,341.8L381.4,343.0L382.9,344.2L384.4,345.4L385.9,346.5L387.4,347.5L388.9,348.4L390.3,349.2L391.8,349.7L393.3,349.7L394.8,349.7L396.3,349.7L397.8,349.7L399.3,349.7L400.8,349.7L402.3,349.7L403.7,349.7L405.2,349.7L406.7,349.7L408.2,349.7L409.7,349.7L411.2,349.7L412.7,349.7L414.2,349.7L415.7,349.5L417.1,349.4L418.6,349.3L420.1,349.2L421.6,349.2L423.1,349.2L424.6,349.2L426.1,349.2L427.6,349.2L429.1,349.3L430.5,349.4L432.0,349.4L433.5,349.5L435.0,349.6L436.5,349.7" fill="none" stroke="#3a3a3a" stroke-width="0.9"/>
<path d="M323.58,253.21V260.80M321.88,253.21H325.28M321.88,260.80H325.28" stroke="#666" stroke-width="0.7" fill="none"/>
<path d="M346.17,286.50V297.03M344.47,286.50H347.87M344.47,297.03H347.87" stroke="#666" stroke-width="0.7" fill="none"/>
<path d="M368.75,299.35V309.46M367.05,299.35H370.45M367.05,309.46H370.45" stroke="#666" stroke-width="0.7" fill="none"/>
<path d="M391.33,305.04V314.31M389.63,305.04H393.03M389.63,314.31H393.03" stroke="#666" stroke-width="0.7" fill="none"/>
<path d="M413.92,323.16V329.90M412.22,323.16H415.62M412.22,329.90H415.62" stroke="#666" stroke-width="0.7" fill="none"/>
<path d="M436.50,323.16V329.90M434.80,323.16H438.20M434.80,329.90H438.20" stroke="#666" stroke-width="0.7" fill="none"/>
<circle cx="301.00" cy="244.37" r="1.80" fill="#000"/>
<circle cx="323.58" cy="257.01" r="1.53" fill="#fff" stroke="#333" stroke-width="0.7"/>
<circle cx="346.17" cy="291.77" r="1.53" fill="#fff" stroke="#333" stroke-width="0.7"/>
<circle cx="368.75" cy="304.41" r="1.53" fill="#fff" stroke="#333" stroke-width="0.7"/>
<circle cx="391.33" cy="309.67" r="1.53" fill="#fff" stroke="#333" stroke-width="0.7"/>
<circle cx="413.92" cy="326.53" r="1.53" fill="#fff" stroke="#333" stroke-width="0.7"/>
<circle cx="436.50" cy="326.53" r="1.53" fill="#fff" stroke="#333" stroke-width="0.7"/>
<path d="M323.58,297.03V309.67M321.88,297.03H325.28M321.88,309.67H325.28" stroke="#666" stroke-width="0.7" fill="none"/>
<circle cx="301.00" cy="244.37" r="1.80" fill="#000"/>
<path d="M321.51,302.11L325.65,302.11L323.58,305.22Z" fill="#000"/>
<path d="M344.10,323.18L348.24,323.18L346.17,326.28Z" fill="#000"/>
<path d="M366.68,331.60L370.82,331.60L368.75,334.71Z" fill="#000"/>
<path d="M389.26,348.46L393.40,348.46L391.33,351.56Z" fill="#000"/>
<path d="M411.85,348.46L415.99,348.46L413.92,351.56Z" fill="#000"/>
<path d="M434.43,348.46L438.57,348.46L436.50,351.56Z" fill="#000"/>
<text x="365.08" y="242.50" font-size="12" text-anchor="start" fill="#1c1c1c">(B2)</text>
<rect x="493.50" y="223.00" width="181.20" height="127.00" fill="none" stroke="#8e8e8e" stroke-width="1"/>
<line x1="491.50" y1="350.00" x2="493.50" y2="350.00" stroke="#8e8e8e" stroke-width="1"/>
<text x="485.96" y="354.07" font-size="11.5" text-anchor="end" fill="#1c1c1c">0</text>
<line x1="491.50" y1="328.83" x2="493.50" y2="328.83" stroke="#8e8e8e" stroke-width="1"/>
<text x="485.96" y="332.90" font-size="11.5" text-anchor="end" fill="#1c1c1c">10</text>
<line x1="491.50" y1="307.67" x2="493.50" y2="307.67" stroke="#8e8e8e" stroke-width="1"/>
<text x="485.96" y="311.74" font-size="11.5" text-anchor="end" fill="#1c1c1c">20</text>
<line x1="491.50" y1="286.50" x2="493.50" y2="286.50" stroke="#8e8e8e" stroke-width="1"/>
<text x="485.96" y="290.57" font-size="11.5" text-anchor="end" fill="#1c1c1c">30</text>
<line x1="491.50" y1="265.33" x2="493.50" y2="265.33" stroke="#8e8e8e" stroke-width="1"/>
<text x="485.96" y="269.40" font-size="11.5" text-anchor="end" fill="#1c1c1c">40</text>
<line x1="491.50" y1="244.17" x2="493.50" y2="244.17" stroke="#8e8e8e" stroke-width="1"/>
<text x="485.96" y="248.24" font-size="11.5" text-anchor="end" fill="#1c1c1c">50</text>
<line x1="491.50" y1="223.00" x2="493.50" y2="223.00" stroke="#8e8e8e" stroke-width="1"/>
<text x="485.96" y="227.07" font-size="11.5" text-anchor="end" fill="#1c1c1c">60</text>
<line x1="516.20" y1="350.00" x2="516.20" y2="352.00" stroke="#8e8e8e" stroke-width="1"/>
<text x="516.20" y="368.20" font-size="11.6" text-anchor="middle" fill="#1c1c1c">Neo</text>
<line x1="538.83" y1="350.00" x2="538.83" y2="352.00" stroke="#8e8e8e" stroke-width="1"/>
<text x="538.83" y="368.20" font-size="11.6" text-anchor="middle" fill="#1c1c1c">L1</text>
<line x1="561.47" y1="350.00" x2="561.47" y2="352.00" stroke="#8e8e8e" stroke-width="1"/>
<text x="561.47" y="368.20" font-size="11.6" text-anchor="middle" fill="#1c1c1c">L2</text>
<line x1="584.10" y1="350.00" x2="584.10" y2="352.00" stroke="#8e8e8e" stroke-width="1"/>
<text x="584.10" y="368.20" font-size="11.6" text-anchor="middle" fill="#1c1c1c">L3</text>
<line x1="606.73" y1="350.00" x2="606.73" y2="352.00" stroke="#8e8e8e" stroke-width="1"/>
<text x="606.73" y="368.20" font-size="11.6" text-anchor="middle" fill="#1c1c1c">L4</text>
<line x1="629.37" y1="350.00" x2="629.37" y2="352.00" stroke="#8e8e8e" stroke-width="1"/>
<text x="629.37" y="368.20" font-size="11.6" text-anchor="middle" fill="#1c1c1c">L5</text>
<line x1="652.00" y1="350.00" x2="652.00" y2="352.00" stroke="#8e8e8e" stroke-width="1"/>
<text x="652.00" y="368.20" font-size="11.6" text-anchor="middle" fill="#1c1c1c">L6</text>
<path d="M516.2,244.2L517.7,244.8L519.2,245.4L520.7,246.1L522.2,246.8L523.7,247.6L525.2,248.4L526.6,249.3L528.1,250.4L529.6,251.5L531.1,252.8L532.6,254.3L534.1,255.9L535.6,257.6L537.1,259.6L538.6,261.8L540.1,264.2L541.6,266.8L543.1,269.5L544.6,272.4L546.0,275.4L547.5,278.4L549.0,281.5L550.5,284.5L552.0,287.5L553.5,290.5L555.0,293.3L556.5,296.0L558.0,298.5L559.5,300.8L561.0,302.8L562.5,304.6L564.0,306.1L565.4,307.3L566.9,308.3L568.4,309.2L569.9,309.8L571.4,310.3L572.9,310.8L574.4,311.1L575.9,311.3L577.4,311.6L578.9,311.8L580.4,312.1L581.9,312.4L583.4,312.7L584.8,313.2L586.3,313.8L587.8,314.5L589.3,315.2L590.8,316.1L592.3,317.0L593.8,317.9L595.3,318.9L596.8,319.8L598.3,320.8L599.8,321.8L601.3,322.7L602.8,323.6L604.2,324.4L605.7,325.2L607.2,325.9L608.7,326.5L610.2,327.0L611.7,327.4L613.2,327.8L614.7,328.1L616.2,328.4L617.7,328.6L619.2,328.7L620.7,328.9L622.2,329.0L623.6,329.0L625.1,329.1L626.6,329.2L628.1,329.2L629.6,329.3L631.1,329.3L632.6,329.4L634.1,329.5L635.6,329.6L637.1,329.7L638.6,329.8L640.1,329.9L641.6,330.0L643.0,330.1L644.5,330.3L646.0,330.4L647.5,330.5L649.0,330.7L650.5,330.8L652.0,330.9" fill="none" stroke="#f03c3c" stroke-width="0.9"/>
<path d="M516.2,244.2L517.7,250.7L519.2,257.2L520.7,263.7L522.2,270.0L523.7,276.2L525.2,282.2L526.6,288.0L528.1,293.5L529.6,298.8L531.1,303.7L532.6,308.2L534.1,312.4L535.6,316.1L537.1,319.4L538.6,322.1L540.1,324.3L541.6,326.0L543.1,327.2L544.6,328.0L546.0,328.5L547.5,328.7L549.0,328.6L550.5,328.3L552.0,328.0L553.5,327.5L555.0,327.0L556.5,326.5L558.0,326.1L559.5,325.8L561.0,325.6L562.5,325.8L564.0,326.1L565.4,326.7L566.9,327.4L568.4,328.2L569.9,329.2L571.4,330.3L572.9,331.5L574.4,332.7L575.9,333.9L577.4,335.0L578.9,336.2L580.4,337.2L581.9,338.2L583.4,339.1L584.8,339.7L586.3,340.3L587.8,340.6L589.3,340.9L590.8,341.1L592.3,341.1L593.8,341.1L595.3,341.1L596.8,341.0L598.3,340.9L599.8,340.9L601.3,340.8L602.8,340.8L604.2,340.8L605.7,341.0L607.2,341.2L608.7,341.5L610.2,342.0L611.7,342.5L613.2,343.0L614.7,343.7L616.2,344.3L617.7,345.0L619.2,345.7L620.7,346.4L622.2,347.2L623.6,347.8L625.1,348.5L626.6,349.1L628.1,349.6L629.6,350.0L631.1,350.0L632.6,350.0L634.1,350.0L635.6,350.0L637.1,350.0L638.6,350.0L640.1,350.0L641.6,350.0L643.0,350.0L644.5,350.0L646.0,350.0L647.5,350.0L649.0,350.0L650.5,350.0L652.0,350.0" fill="none" stroke="#3a3a3a" stroke-width="0.9"/>
<path d="M538.83,258.35V265.97M537.13,258.35H540.53M537.13,265.97H540.53" stroke="#666" stroke-width="0.7" fill="none"/>
<path d="M561.47,297.08V309.78M559.77,297.08H563.17M559.77,309.78H563.17" stroke="#666" stroke-width="0.7" fill="none"/>
<path d="M584.10,307.67V318.25M582.40,307.67H585.80M582.40,318.25H585.80" stroke="#666" stroke-width="0.7" fill="none"/>
<path d="M606.73,321.85V329.47M605.03,321.85H608.43M605.03,329.47H608.43" stroke="#666" stroke-width="0.7" fill="none"/>
<path d="M629.37,325.87V332.64M627.67,325.87H631.07M627.67,332.64H631.07" stroke="#666" stroke-width="0.7" fill="none"/>
<path d="M652.00,328.41V333.49M650.30,328.41H653.70M650.30,333.49H653.70" stroke="#666" stroke-width="0.7" fill="none"/>
<circle cx="516.20" cy="244.17" r="1.80" fill="#000"/>
<circle cx="538.83" cy="262.16" r="1.53" fill="#fff" stroke="#333" stroke-width="0.7"/>
<circle cx="561.47" cy="303.43" r="1.53" fill="#fff" stroke="#333" stroke-width="0.7"/>
<circle cx="584.10" cy="312.96" r="1.53" fill="#fff" stroke="#333" stroke-width="0.7"/>
<circle cx="606.73" cy="325.66" r="1.53" fill="#fff" stroke="#333" stroke-width="0.7"/>
<circle cx="629.37" cy="329.26" r="1.53" fill="#fff" stroke="#333" stroke-width="0.7"/>
<circle cx="652.00" cy="330.95" r="1.53" fill="#fff" stroke="#333" stroke-width="0.7"/>
<path d="M538.83,318.25V326.72M537.13,318.25H540.53M537.13,326.72H540.53" stroke="#666" stroke-width="0.7" fill="none"/>
<circle cx="516.20" cy="244.17" r="1.80" fill="#000"/>
<path d="M536.76,321.24L540.90,321.24L538.83,324.35Z" fill="#000"/>
<path d="M559.40,324.42L563.54,324.42L561.47,327.52Z" fill="#000"/>
<path d="M582.03,338.17L586.17,338.17L584.10,341.28Z" fill="#000"/>
<path d="M604.66,339.87L608.80,339.87L606.73,342.97Z" fill="#000"/>
<path d="M627.30,348.76L631.44,348.76L629.37,351.86Z" fill="#000"/>
<path d="M649.93,348.76L654.07,348.76L652.00,351.86Z" fill="#000"/>
<text x="577.18" y="243.60" font-size="12" text-anchor="start" fill="#1c1c1c">(B3)</text>
<text x="26.40" y="288.20" font-size="14.0" text-anchor="middle" fill="#1c1c1c" transform="rotate(-90 26.40 288.20)">Survival (%)</text>
<rect x="61.30" y="390.50" width="180.60" height="125.80" fill="none" stroke="#8e8e8e" stroke-width="1"/>
<line x1="59.30" y1="497.50" x2="61.30" y2="497.50" stroke="#8e8e8e" stroke-width="1"/>
<text x="54.01" y="502.03" font-size="12.8" text-anchor="end" fill="#1c1c1c">0</text>
<line x1="59.30" y1="476.10" x2="61.30" y2="476.10" stroke="#8e8e8e" stroke-width="1"/>
<text x="54.01" y="480.63" font-size="12.8" text-anchor="end" fill="#1c1c1c">10</text>
<line x1="59.30" y1="454.70" x2="61.30" y2="454.70" stroke="#8e8e8e" stroke-width="1"/>
<text x="54.01" y="459.23" font-size="12.8" text-anchor="end" fill="#1c1c1c">20</text>
<line x1="59.30" y1="433.30" x2="61.30" y2="433.30" stroke="#8e8e8e" stroke-width="1"/>
<text x="54.01" y="437.83" font-size="12.8" text-anchor="end" fill="#1c1c1c">30</text>
<line x1="59.30" y1="411.90" x2="61.30" y2="411.90" stroke="#8e8e8e" stroke-width="1"/>
<text x="54.01" y="416.43" font-size="12.8" text-anchor="end" fill="#1c1c1c">40</text>
<line x1="59.30" y1="390.50" x2="61.30" y2="390.50" stroke="#8e8e8e" stroke-width="1"/>
<text x="54.01" y="395.03" font-size="12.8" text-anchor="end" fill="#1c1c1c">50</text>
<line x1="84.10" y1="516.30" x2="84.10" y2="518.30" stroke="#8e8e8e" stroke-width="1"/>
<text x="84.10" y="538.00" font-size="13.7" text-anchor="middle" fill="#1c1c1c">Neo</text>
<line x1="106.67" y1="516.30" x2="106.67" y2="518.30" stroke="#8e8e8e" stroke-width="1"/>
<text x="106.67" y="538.00" font-size="13.7" text-anchor="middle" fill="#1c1c1c">L1</text>
<line x1="129.23" y1="516.30" x2="129.23" y2="518.30" stroke="#8e8e8e" stroke-width="1"/>
<text x="129.23" y="538.00" font-size="13.7" text-anchor="middle" fill="#1c1c1c">L2</text>
<line x1="151.80" y1="516.30" x2="151.80" y2="518.30" stroke="#8e8e8e" stroke-width="1"/>
<text x="151.80" y="538.00" font-size="13.7" text-anchor="middle" fill="#1c1c1c">L3</text>
<line x1="174.37" y1="516.30" x2="174.37" y2="518.30" stroke="#8e8e8e" stroke-width="1"/>
<text x="174.37" y="538.00" font-size="13.7" text-anchor="middle" fill="#1c1c1c">L4</text>
<line x1="196.93" y1="516.30" x2="196.93" y2="518.30" stroke="#8e8e8e" stroke-width="1"/>
<text x="196.93" y="538.00" font-size="13.7" text-anchor="middle" fill="#1c1c1c">L5</text>
<line x1="219.50" y1="516.30" x2="219.50" y2="518.30" stroke="#8e8e8e" stroke-width="1"/>
<text x="219.50" y="538.00" font-size="13.7" text-anchor="middle" fill="#1c1c1c">L6</text>
<path d="M106.7,497.5L108.2,497.7L109.6,497.8L111.1,497.9L112.6,497.9L114.1,497.9L115.6,497.6L117.1,497.2L118.5,496.7L120.0,495.9L121.5,494.9L123.0,493.6L124.5,492.0L126.0,490.1L127.5,487.9L128.9,485.2L130.4,482.2L131.9,478.8L133.4,475.1L134.9,471.2L136.4,467.0L137.8,462.7L139.3,458.3L140.8,453.8L142.3,449.3L143.8,444.8L145.3,440.4L146.8,436.2L148.2,432.2L149.7,428.4L151.2,425.0L152.7,421.8L154.2,419.1L155.7,416.7L157.1,414.6L158.6,413.0L160.1,411.6L161.6,410.7L163.1,410.0L164.6,409.8L166.1,409.8L167.5,410.2L169.0,410.9L170.5,412.0L172.0,413.3L173.5,415.0L175.0,417.0L176.4,419.3L177.9,421.9L179.4,424.7L180.9,427.6L182.4,430.7L183.9,433.8L185.4,437.0L186.8,440.3L188.3,443.4L189.8,446.5L191.3,449.5L192.8,452.3L194.3,454.9L195.7,457.3L197.2,459.4L198.7,461.1L200.2,462.6L201.7,463.8L203.2,464.7L204.7,465.4L206.1,465.9L207.6,466.2L209.1,466.4L210.6,466.3L212.1,466.2L213.6,466.0L215.0,465.6L216.5,465.2L218.0,464.8L219.5,464.3" fill="none" stroke="#f03c3c" stroke-width="0.9"/>
<path d="M84.1,497.5L85.6,497.4L87.0,497.4L88.5,497.3L90.0,497.2L91.5,497.1L92.9,497.1L94.4,497.0L95.9,496.9L97.3,496.8L98.8,496.8L100.3,496.7L101.8,496.6L103.2,496.6L104.7,496.5L106.2,496.5L107.6,496.4L109.1,496.3L110.6,496.3L112.1,496.2L113.5,496.1L115.0,496.0L116.5,496.0L118.0,495.8L119.4,495.7L120.9,495.6L122.4,495.4L123.8,495.2L125.3,495.0L126.8,494.8L128.3,494.5L129.7,494.2L131.2,493.8L132.7,493.5L134.1,493.1L135.6,492.6L137.1,492.2L138.6,491.7L140.0,491.2L141.5,490.7L143.0,490.2L144.4,489.6L145.9,489.1L147.4,488.5L148.9,488.0L150.3,487.4L151.8,486.8" fill="none" stroke="#3a3a3a" stroke-width="0.9"/>
<path d="M151.80,420.25V427.09M150.10,420.25H153.50M150.10,427.09H153.50" stroke="#666" stroke-width="0.7" fill="none"/>
<path d="M174.37,413.18V419.18M172.67,413.18H176.07M172.67,419.18H176.07" stroke="#666" stroke-width="0.7" fill="none"/>
<path d="M196.93,453.42V464.54M195.23,453.42H198.63M195.23,464.54H198.63" stroke="#666" stroke-width="0.7" fill="none"/>
<path d="M219.50,461.76V466.90M217.80,461.76H221.20M217.80,466.90H221.20" stroke="#666" stroke-width="0.7" fill="none"/>
<circle cx="129.23" cy="484.66" r="1.80" fill="#000"/>
<circle cx="151.80" cy="423.67" r="1.80" fill="#000"/>
<circle cx="174.37" cy="416.18" r="1.80" fill="#000"/>
<circle cx="196.93" cy="458.98" r="1.80" fill="#000"/>
<circle cx="219.50" cy="464.33" r="1.80" fill="#000"/>
<circle cx="84.10" cy="497.50" r="1.53" fill="#fff" stroke="#333" stroke-width="0.7"/>
<circle cx="106.67" cy="496.43" r="1.53" fill="#fff" stroke="#333" stroke-width="0.7"/>
<circle cx="129.23" cy="494.29" r="1.53" fill="#fff" stroke="#333" stroke-width="0.7"/>
<rect x="150.27" y="485.27" width="3.06" height="3.06" fill="#fff" stroke="#333" stroke-width="0.7"/>
<text x="113.88" y="412.50" font-size="12" text-anchor="start" fill="#1c1c1c">(C1)</text>
<rect x="276.40" y="390.70" width="180.10" height="126.60" fill="none" stroke="#8e8e8e" stroke-width="1"/>
<line x1="274.40" y1="500.60" x2="276.40" y2="500.60" stroke="#8e8e8e" stroke-width="1"/>
<text x="267.60" y="504.99" font-size="12.4" text-anchor="end" fill="#1c1c1c">0</text>
<line x1="274.40" y1="482.28" x2="276.40" y2="482.28" stroke="#8e8e8e" stroke-width="1"/>
<text x="267.60" y="486.67" font-size="12.4" text-anchor="end" fill="#1c1c1c">10</text>
<line x1="274.40" y1="463.97" x2="276.40" y2="463.97" stroke="#8e8e8e" stroke-width="1"/>
<text x="267.60" y="468.36" font-size="12.4" text-anchor="end" fill="#1c1c1c">20</text>
<line x1="274.40" y1="445.65" x2="276.40" y2="445.65" stroke="#8e8e8e" stroke-width="1"/>
<text x="267.60" y="450.04" font-size="12.4" text-anchor="end" fill="#1c1c1c">30</text>
<line x1="274.40" y1="427.33" x2="276.40" y2="427.33" stroke="#8e8e8e" stroke-width="1"/>
<text x="267.60" y="431.72" font-size="12.4" text-anchor="end" fill="#1c1c1c">40</text>
<line x1="274.40" y1="409.02" x2="276.40" y2="409.02" stroke="#8e8e8e" stroke-width="1"/>
<text x="267.60" y="413.41" font-size="12.4" text-anchor="end" fill="#1c1c1c">50</text>
<line x1="274.40" y1="390.70" x2="276.40" y2="390.70" stroke="#8e8e8e" stroke-width="1"/>
<text x="267.60" y="395.09" font-size="12.4" text-anchor="end" fill="#1c1c1c">60</text>
<line x1="298.50" y1="517.30" x2="298.50" y2="519.30" stroke="#8e8e8e" stroke-width="1"/>
<text x="298.50" y="538.50" font-size="13.6" text-anchor="middle" fill="#1c1c1c">Neo</text>
<line x1="321.00" y1="517.30" x2="321.00" y2="519.30" stroke="#8e8e8e" stroke-width="1"/>
<text x="321.00" y="538.50" font-size="13.6" text-anchor="middle" fill="#1c1c1c">L1</text>
<line x1="343.50" y1="517.30" x2="343.50" y2="519.30" stroke="#8e8e8e" stroke-width="1"/>
<text x="343.50" y="538.50" font-size="13.6" text-anchor="middle" fill="#1c1c1c">L2</text>
<line x1="366.00" y1="517.30" x2="366.00" y2="519.30" stroke="#8e8e8e" stroke-width="1"/>
<text x="366.00" y="538.50" font-size="13.6" text-anchor="middle" fill="#1c1c1c">L3</text>
<line x1="388.50" y1="517.30" x2="388.50" y2="519.30" stroke="#8e8e8e" stroke-width="1"/>
<text x="388.50" y="538.50" font-size="13.6" text-anchor="middle" fill="#1c1c1c">L4</text>
<line x1="411.00" y1="517.30" x2="411.00" y2="519.30" stroke="#8e8e8e" stroke-width="1"/>
<text x="411.00" y="538.50" font-size="13.6" text-anchor="middle" fill="#1c1c1c">L5</text>
<line x1="433.50" y1="517.30" x2="433.50" y2="519.30" stroke="#8e8e8e" stroke-width="1"/>
<text x="433.50" y="538.50" font-size="13.6" text-anchor="middle" fill="#1c1c1c">L6</text>
<path d="M298.5,500.6L300.0,500.4L301.5,500.2L303.0,499.9L304.4,499.8L305.9,499.6L307.4,499.4L308.9,499.3L310.4,499.3L311.9,499.3L313.3,499.3L314.8,499.4L316.3,499.6L317.8,499.8L319.3,500.1L320.8,500.5L322.2,501.0L323.7,501.5L325.2,502.0L326.7,502.5L328.2,502.8L329.7,503.0L331.1,502.9L332.6,502.5L334.1,501.8L335.6,500.7L337.1,499.2L338.6,497.1L340.0,494.5L341.5,491.3L343.0,487.4L344.5,482.8L346.0,477.5L347.5,471.7L348.9,465.5L350.4,459.0L351.9,452.2L353.4,445.5L354.9,438.8L356.4,432.2L357.8,426.0L359.3,420.2L360.8,415.0L362.3,410.4L363.8,406.6L365.3,403.7L366.7,401.8L368.2,401.0L369.7,401.1L371.2,402.1L372.7,403.9L374.2,406.3L375.6,409.4L377.1,413.1L378.6,417.1L380.1,421.6L381.6,426.3L383.1,431.2L384.5,436.2L386.0,441.2L387.5,446.1L389.0,450.9L390.5,455.5L392.0,459.8L393.4,463.9L394.9,467.8L396.4,471.4L397.9,474.8L399.4,478.0L400.9,480.8L402.3,483.4L403.8,485.7L405.3,487.8L406.8,489.5L408.3,490.9L409.8,492.0L411.2,492.8L412.7,493.3L414.2,493.5L415.7,493.4L417.2,493.1L418.7,492.5L420.1,491.7L421.6,490.8L423.1,489.6L424.6,488.3L426.1,486.9L427.6,485.4L429.0,483.8L430.5,482.1L432.0,480.4L433.5,478.6" fill="none" stroke="#f03c3c" stroke-width="0.9"/>
<path d="M298.5,500.6L300.0,500.5L301.4,500.5L302.9,500.4L304.4,500.4L305.8,500.3L307.3,500.3L308.8,500.2L310.2,500.1L311.7,500.1L313.2,500.0L314.6,500.0L316.1,499.9L317.6,499.8L319.0,499.8L320.5,499.7L322.0,499.6L323.4,499.6L324.9,499.5L326.4,499.4L327.8,499.3L329.3,499.2L330.8,499.1L332.2,498.9L333.7,498.8L335.2,498.6L336.7,498.4L338.1,498.1L339.6,497.8L341.1,497.5L342.5,497.2L344.0,496.8L345.5,496.4L346.9,495.9L348.4,495.4L349.9,494.9L351.3,494.3L352.8,493.8L354.3,493.2L355.7,492.5L357.2,491.9L358.7,491.2L360.1,490.6L361.6,489.9L363.1,489.2L364.5,488.5L366.0,487.8" fill="none" stroke="#3a3a3a" stroke-width="0.9"/>
<path d="M366.00,398.94V406.27M364.30,398.94H367.70M364.30,406.27H367.70" stroke="#666" stroke-width="0.7" fill="none"/>
<path d="M388.50,446.75V451.88M386.80,446.75H390.20M386.80,451.88H390.20" stroke="#666" stroke-width="0.7" fill="none"/>
<path d="M411.00,491.26V494.19M409.30,491.26H412.70M409.30,494.19H412.70" stroke="#666" stroke-width="0.7" fill="none"/>
<path d="M433.50,475.69V481.55M431.80,475.69H435.20M431.80,481.55H435.20" stroke="#666" stroke-width="0.7" fill="none"/>
<circle cx="343.50" cy="485.95" r="1.80" fill="#000"/>
<circle cx="366.00" cy="402.61" r="1.80" fill="#000"/>
<circle cx="388.50" cy="449.31" r="1.80" fill="#000"/>
<circle cx="411.00" cy="492.72" r="1.80" fill="#000"/>
<circle cx="433.50" cy="478.62" r="1.80" fill="#000"/>
<circle cx="298.50" cy="500.60" r="1.53" fill="#fff" stroke="#333" stroke-width="0.7"/>
<circle cx="321.00" cy="499.68" r="1.53" fill="#fff" stroke="#333" stroke-width="0.7"/>
<circle cx="343.50" cy="496.94" r="1.53" fill="#fff" stroke="#333" stroke-width="0.7"/>
<rect x="364.47" y="486.25" width="3.06" height="3.06" fill="#fff" stroke="#333" stroke-width="0.7"/>
<text x="324.28" y="409.90" font-size="12" text-anchor="start" fill="#1c1c1c">(C2)</text>
<rect x="492.70" y="389.50" width="182.70" height="127.90" fill="none" stroke="#8e8e8e" stroke-width="1"/>
<line x1="490.70" y1="493.60" x2="492.70" y2="493.60" stroke="#8e8e8e" stroke-width="1"/>
<text x="484.30" y="497.99" font-size="12.4" text-anchor="end" fill="#1c1c1c">0</text>
<line x1="490.70" y1="467.58" x2="492.70" y2="467.58" stroke="#8e8e8e" stroke-width="1"/>
<text x="484.30" y="471.96" font-size="12.4" text-anchor="end" fill="#1c1c1c">10</text>
<line x1="490.70" y1="441.55" x2="492.70" y2="441.55" stroke="#8e8e8e" stroke-width="1"/>
<text x="484.30" y="445.94" font-size="12.4" text-anchor="end" fill="#1c1c1c">20</text>
<line x1="490.70" y1="415.52" x2="492.70" y2="415.52" stroke="#8e8e8e" stroke-width="1"/>
<text x="484.30" y="419.91" font-size="12.4" text-anchor="end" fill="#1c1c1c">30</text>
<line x1="490.70" y1="389.50" x2="492.70" y2="389.50" stroke="#8e8e8e" stroke-width="1"/>
<text x="484.30" y="393.89" font-size="12.4" text-anchor="end" fill="#1c1c1c">40</text>
<line x1="515.40" y1="517.40" x2="515.40" y2="519.40" stroke="#8e8e8e" stroke-width="1"/>
<text x="515.40" y="538.90" font-size="13.6" text-anchor="middle" fill="#1c1c1c">Neo</text>
<line x1="538.23" y1="517.40" x2="538.23" y2="519.40" stroke="#8e8e8e" stroke-width="1"/>
<text x="538.23" y="538.90" font-size="13.6" text-anchor="middle" fill="#1c1c1c">L1</text>
<line x1="561.07" y1="517.40" x2="561.07" y2="519.40" stroke="#8e8e8e" stroke-width="1"/>
<text x="561.07" y="538.90" font-size="13.6" text-anchor="middle" fill="#1c1c1c">L2</text>
<line x1="583.90" y1="517.40" x2="583.90" y2="519.40" stroke="#8e8e8e" stroke-width="1"/>
<text x="583.90" y="538.90" font-size="13.6" text-anchor="middle" fill="#1c1c1c">L3</text>
<line x1="606.73" y1="517.40" x2="606.73" y2="519.40" stroke="#8e8e8e" stroke-width="1"/>
<text x="606.73" y="538.90" font-size="13.6" text-anchor="middle" fill="#1c1c1c">L4</text>
<line x1="629.57" y1="517.40" x2="629.57" y2="519.40" stroke="#8e8e8e" stroke-width="1"/>
<text x="629.57" y="538.90" font-size="13.6" text-anchor="middle" fill="#1c1c1c">L5</text>
<line x1="652.40" y1="517.40" x2="652.40" y2="519.40" stroke="#8e8e8e" stroke-width="1"/>
<text x="652.40" y="538.90" font-size="13.6" text-anchor="middle" fill="#1c1c1c">L6</text>
<path d="M515.4,493.6L516.9,493.6L518.4,493.6L519.9,493.6L521.4,493.6L522.8,493.5L524.3,493.5L525.8,493.5L527.3,493.4L528.8,493.4L530.3,493.3L531.8,493.3L533.3,493.2L534.8,493.1L536.2,493.0L537.7,492.9L539.2,492.7L540.7,492.6L542.2,492.3L543.7,492.0L545.2,491.6L546.7,491.0L548.2,490.3L549.6,489.5L551.1,488.4L552.6,487.1L554.1,485.5L555.6,483.6L557.1,481.5L558.6,479.0L560.1,476.2L561.6,473.0L563.1,469.4L564.5,465.5L566.0,461.3L567.5,456.9L569.0,452.3L570.5,447.6L572.0,442.8L573.5,438.0L575.0,433.2L576.5,428.5L577.9,423.9L579.4,419.5L580.9,415.3L582.4,411.3L583.9,407.7L585.4,404.5L586.9,401.6L588.4,399.1L589.9,397.0L591.3,395.3L592.8,394.0L594.3,393.0L595.8,392.5L597.3,392.4L598.8,392.6L600.3,393.3L601.8,394.4L603.3,396.0L604.7,397.9L606.2,400.3L607.7,403.1L609.2,406.3L610.7,409.9L612.2,413.7L613.7,417.7L615.2,421.9L616.7,426.2L618.1,430.5L619.6,434.8L621.1,439.1L622.6,443.1L624.1,447.0L625.6,450.6L627.1,453.9L628.6,456.8L630.1,459.2L631.6,461.2L633.0,462.8L634.5,463.9L636.0,464.7L637.5,465.1L639.0,465.2L640.5,465.0L642.0,464.6L643.5,463.9L645.0,463.1L646.4,462.1L647.9,461.0L649.4,459.8L650.9,458.5L652.4,457.2" fill="none" stroke="#f03c3c" stroke-width="0.9"/>
<path d="M515.4,493.6L516.9,493.6L518.4,493.6L519.9,493.6L521.4,493.6L522.9,493.6L524.4,493.6L525.9,493.5L527.4,493.5L528.9,493.4L530.4,493.4L531.9,493.3L533.4,493.2L534.9,493.1L536.4,493.0L537.9,492.9L539.4,492.7L540.9,492.5L542.4,492.3L543.8,492.1L545.3,491.8L546.8,491.6L548.3,491.3L549.8,490.9L551.3,490.6L552.8,490.2L554.3,489.8L555.8,489.4L557.3,488.9L558.8,488.4L560.3,487.9L561.8,487.3L563.3,486.7L564.8,486.1L566.3,485.5L567.8,484.8L569.3,484.2L570.8,483.5L572.3,482.8L573.8,482.2L575.3,481.5L576.8,480.8L578.3,480.2L579.8,479.6L581.3,479.0L582.8,478.4L584.3,477.9L585.8,477.4L587.3,476.9L588.8,476.4L590.3,476.0L591.8,475.7L593.3,475.3L594.8,475.0L596.3,474.7L597.7,474.4L599.2,474.1L600.7,473.8L602.2,473.5L603.7,473.3L605.2,473.0L606.7,472.8" fill="none" stroke="#3a3a3a" stroke-width="0.9"/>
<path d="M561.07,470.44V477.72M559.37,470.44H562.77M559.37,477.72H562.77" stroke="#666" stroke-width="0.7" fill="none"/>
<path d="M583.90,404.07V411.36M582.20,404.07H585.60M582.20,411.36H585.60" stroke="#666" stroke-width="0.7" fill="none"/>
<path d="M606.73,396.53V405.90M605.03,396.53H608.43M605.03,405.90H608.43" stroke="#666" stroke-width="0.7" fill="none"/>
<path d="M629.57,454.30V462.63M627.87,454.30H631.27M627.87,462.63H631.27" stroke="#666" stroke-width="0.7" fill="none"/>
<path d="M652.40,450.40V463.93M650.70,450.40H654.10M650.70,463.93H654.10" stroke="#666" stroke-width="0.7" fill="none"/>
<circle cx="561.07" cy="474.08" r="1.80" fill="#000"/>
<circle cx="583.90" cy="407.72" r="1.80" fill="#000"/>
<circle cx="606.73" cy="401.21" r="1.80" fill="#000"/>
<circle cx="629.57" cy="458.47" r="1.80" fill="#000"/>
<circle cx="652.40" cy="457.17" r="1.80" fill="#000"/>
<path d="M606.73,470.70V474.86M605.03,470.70H608.43M605.03,474.86H608.43" stroke="#666" stroke-width="0.7" fill="none"/>
<circle cx="515.40" cy="493.60" r="1.53" fill="#fff" stroke="#333" stroke-width="0.7"/>
<circle cx="538.23" cy="492.82" r="1.53" fill="#fff" stroke="#333" stroke-width="0.7"/>
<circle cx="561.07" cy="487.61" r="1.53" fill="#fff" stroke="#333" stroke-width="0.7"/>
<circle cx="583.90" cy="477.99" r="1.53" fill="#fff" stroke="#333" stroke-width="0.7"/>
<circle cx="606.73" cy="472.78" r="1.53" fill="#fff" stroke="#333" stroke-width="0.7"/>
<text x="541.28" y="407.10" font-size="12" text-anchor="start" fill="#1c1c1c">(C3)</text>
<text x="27.50" y="453.10" font-size="14.2" text-anchor="middle" fill="#1c1c1c" transform="rotate(-90 27.50 453.10)">Mean RGR (mg/day)</text>
<text x="146.75" y="567.30" font-size="14.0" text-anchor="middle" fill="#1c1c1c">Larval development instars</text>
<text x="365.90" y="565.20" font-size="14.0" text-anchor="middle" fill="#1c1c1c">Larval development instars</text>
<text x="586.70" y="563.90" font-size="14.0" text-anchor="middle" fill="#1c1c1c">Larval development instars</text>
<rect x="50.50" y="637.50" width="169.90" height="116.70" fill="none" stroke="#8e8e8e" stroke-width="1"/>
<line x1="48.50" y1="741.80" x2="50.50" y2="741.80" stroke="#8e8e8e" stroke-width="1"/>
<text x="42.36" y="745.84" font-size="11.4" text-anchor="end" fill="#1c1c1c">0</text>
<line x1="48.50" y1="726.90" x2="50.50" y2="726.90" stroke="#8e8e8e" stroke-width="1"/>
<text x="42.36" y="730.94" font-size="11.4" text-anchor="end" fill="#1c1c1c">10</text>
<line x1="48.50" y1="712.00" x2="50.50" y2="712.00" stroke="#8e8e8e" stroke-width="1"/>
<text x="42.36" y="716.04" font-size="11.4" text-anchor="end" fill="#1c1c1c">20</text>
<line x1="48.50" y1="697.10" x2="50.50" y2="697.10" stroke="#8e8e8e" stroke-width="1"/>
<text x="42.36" y="701.14" font-size="11.4" text-anchor="end" fill="#1c1c1c">30</text>
<line x1="48.50" y1="682.20" x2="50.50" y2="682.20" stroke="#8e8e8e" stroke-width="1"/>
<text x="42.36" y="686.24" font-size="11.4" text-anchor="end" fill="#1c1c1c">40</text>
<line x1="48.50" y1="667.30" x2="50.50" y2="667.30" stroke="#8e8e8e" stroke-width="1"/>
<text x="42.36" y="671.34" font-size="11.4" text-anchor="end" fill="#1c1c1c">50</text>
<line x1="48.50" y1="652.40" x2="50.50" y2="652.40" stroke="#8e8e8e" stroke-width="1"/>
<text x="42.36" y="656.44" font-size="11.4" text-anchor="end" fill="#1c1c1c">60</text>
<line x1="48.50" y1="637.50" x2="50.50" y2="637.50" stroke="#8e8e8e" stroke-width="1"/>
<text x="42.36" y="641.54" font-size="11.4" text-anchor="end" fill="#1c1c1c">70</text>
<line x1="71.20" y1="754.20" x2="71.20" y2="756.20" stroke="#8e8e8e" stroke-width="1"/>
<text x="71.20" y="773.00" font-size="11.3" text-anchor="middle" fill="#1c1c1c">Neo</text>
<line x1="92.43" y1="754.20" x2="92.43" y2="756.20" stroke="#8e8e8e" stroke-width="1"/>
<text x="92.43" y="773.00" font-size="11.3" text-anchor="middle" fill="#1c1c1c">L1</text>
<line x1="113.67" y1="754.20" x2="113.67" y2="756.20" stroke="#8e8e8e" stroke-width="1"/>
<text x="113.67" y="773.00" font-size="11.3" text-anchor="middle" fill="#1c1c1c">L2</text>
<line x1="134.90" y1="754.20" x2="134.90" y2="756.20" stroke="#8e8e8e" stroke-width="1"/>
<text x="134.90" y="773.00" font-size="11.3" text-anchor="middle" fill="#1c1c1c">L3</text>
<line x1="156.13" y1="754.20" x2="156.13" y2="756.20" stroke="#8e8e8e" stroke-width="1"/>
<text x="156.13" y="773.00" font-size="11.3" text-anchor="middle" fill="#1c1c1c">L4</text>
<line x1="177.37" y1="754.20" x2="177.37" y2="756.20" stroke="#8e8e8e" stroke-width="1"/>
<text x="177.37" y="773.00" font-size="11.3" text-anchor="middle" fill="#1c1c1c">L5</text>
<line x1="198.60" y1="754.20" x2="198.60" y2="756.20" stroke="#8e8e8e" stroke-width="1"/>
<text x="198.60" y="773.00" font-size="11.3" text-anchor="middle" fill="#1c1c1c">L6</text>
<path d="M71.2,741.8L72.7,740.9L74.2,740.0L75.7,739.1L77.2,738.3L78.7,737.5L80.2,736.7L81.7,736.0L83.2,735.4L84.7,734.9L86.2,734.4L87.7,734.0L89.2,733.8L90.7,733.6L92.2,733.6L93.7,733.7L95.2,733.9L96.7,734.2L98.2,734.6L99.7,735.0L101.2,735.4L102.7,735.7L104.2,736.0L105.7,736.2L107.2,736.2L108.7,736.2L110.2,735.9L111.7,735.4L113.2,734.7L114.7,733.6L116.2,732.4L117.7,730.9L119.2,729.2L120.7,727.3L122.2,725.3L123.7,723.1L125.2,720.9L126.7,718.5L128.2,716.2L129.7,713.9L131.2,711.5L132.7,709.3L134.2,707.1L135.6,705.0L137.1,703.1L138.6,701.2L140.1,699.4L141.6,697.7L143.1,696.1L144.6,694.4L146.1,692.8L147.6,691.2L149.1,689.6L150.6,688.0L152.1,686.3L153.6,684.6L155.1,682.7L156.6,680.8L158.1,678.8L159.6,676.7L161.1,674.5L162.6,672.3L164.1,670.1L165.6,667.9L167.1,665.7L168.6,663.6L170.1,661.5L171.6,659.5L173.1,657.7L174.6,655.9L176.1,654.3L177.6,652.9L179.1,651.7L180.6,650.6L182.1,649.7L183.6,648.9L185.1,648.3L186.6,647.8L188.1,647.4L189.6,647.1L191.1,646.9L192.6,646.7L194.1,646.6L195.6,646.5L197.1,646.5L198.6,646.4" fill="none" stroke="#f03c3c" stroke-width="0.9"/>
<path d="M71.2,741.8L72.7,741.3L74.2,740.7L75.7,740.2L77.2,739.6L78.7,739.1L80.2,738.6L81.7,738.0L83.2,737.5L84.7,737.0L86.2,736.5L87.7,735.9L89.2,735.4L90.7,734.9L92.2,734.4L93.7,733.9L95.2,733.5L96.7,733.0L98.2,732.5L99.7,732.0L101.2,731.6L102.7,731.2L104.2,730.7L105.7,730.3L107.2,729.9L108.7,729.5L110.2,729.2L111.7,728.8L113.2,728.5L114.7,728.2L116.2,727.9L117.7,727.6L119.2,727.4L120.7,727.2L122.2,727.0L123.7,726.8L125.2,726.7L126.7,726.6L128.2,726.6L129.7,726.6L131.2,726.6L132.7,726.7L134.2,726.8L135.6,727.0L137.1,727.2L138.6,727.5L140.1,727.8L141.6,728.1L143.1,728.4L144.6,728.7L146.1,729.0L147.6,729.3L149.1,729.5L150.6,729.7L152.1,729.9L153.6,729.9L155.1,729.9L156.6,729.8L158.1,729.7L159.6,729.4L161.1,729.1L162.6,728.7L164.1,728.3L165.6,727.9L167.1,727.4L168.6,726.9L170.1,726.5L171.6,726.0L173.1,725.6L174.6,725.2L176.1,724.9L177.6,724.6L179.1,724.4L180.6,724.3L182.1,724.2L183.6,724.2L185.1,724.3L186.6,724.4L188.1,724.5L189.6,724.7L191.1,724.9L192.6,725.1L194.1,725.3L195.6,725.6L197.1,725.9L198.6,726.2" fill="none" stroke="#5a5af0" stroke-width="0.9"/>
<path d="M71.2,741.8L72.7,742.0L74.2,742.2L75.7,742.3L77.2,742.5L78.7,742.6L80.2,742.7L81.7,742.8L83.2,742.8L84.7,742.8L86.2,742.7L87.7,742.6L89.2,742.4L90.7,742.2L92.2,741.9L93.7,741.5L95.2,741.0L96.7,740.5L98.2,739.9L99.7,739.3L101.2,738.6L102.7,737.9L104.2,737.3L105.7,736.6L107.2,736.0L108.7,735.3L110.2,734.8L111.7,734.2L113.2,733.7L114.7,733.3L116.2,733.0L117.7,732.7L119.2,732.5L120.7,732.3L122.2,732.2L123.7,732.1L125.2,732.0L126.7,731.9L128.2,731.8L129.7,731.8L131.2,731.7L132.7,731.6L134.2,731.4L135.6,731.3L137.1,731.1L138.6,730.9L140.1,730.6L141.6,730.3L143.1,730.0L144.6,729.7L146.1,729.4L147.6,729.0L149.1,728.6L150.6,728.3L152.1,727.9L153.6,727.5L155.1,727.1L156.6,726.8L158.1,726.4L159.6,726.1L161.1,725.7L162.6,725.4L164.1,725.1L165.6,724.8L167.1,724.5L168.6,724.2L170.1,724.0L171.6,723.8L173.1,723.6L174.6,723.4L176.1,723.3L177.6,723.2L179.1,723.1L180.6,723.0L182.1,723.0L183.6,723.0L185.1,723.0L186.6,723.1L188.1,723.2L189.6,723.2L191.1,723.3L192.6,723.4L194.1,723.5L195.6,723.7L197.1,723.8L198.6,723.9" fill="none" stroke="#f050f0" stroke-width="0.9"/>
<path d="M71.2,741.8L72.7,741.9L74.2,742.1L75.7,742.2L77.2,742.3L78.7,742.4L80.2,742.5L81.7,742.6L83.2,742.6L84.7,742.6L86.2,742.5L87.7,742.4L89.2,742.3L90.7,742.1L92.2,741.8L93.7,741.5L95.2,741.2L96.7,740.7L98.2,740.3L99.7,739.7L101.2,739.2L102.7,738.6L104.2,738.0L105.7,737.3L107.2,736.7L108.7,736.0L110.2,735.3L111.7,734.6L113.2,733.8L114.7,733.1L116.2,732.4L117.7,731.7L119.2,731.0L120.7,730.3L122.2,729.7L123.7,729.0L125.2,728.4L126.7,727.7L128.2,727.1L129.7,726.5L131.2,726.0L132.7,725.4L134.2,724.9L135.6,724.4L137.1,724.0L138.6,723.5L140.1,723.1L141.6,722.7L143.1,722.4L144.6,722.1L146.1,721.8L147.6,721.6L149.1,721.4L150.6,721.2L152.1,721.1L153.6,721.0L155.1,720.9L156.6,720.9L158.1,721.0L159.6,721.0L161.1,721.1L162.6,721.3L164.1,721.4L165.6,721.6L167.1,721.8L168.6,722.0L170.1,722.2L171.6,722.4L173.1,722.6L174.6,722.8L176.1,723.0L177.6,723.2L179.1,723.4L180.6,723.5L182.1,723.7L183.6,723.8L185.1,723.9L186.6,724.0L188.1,724.1L189.6,724.2L191.1,724.3L192.6,724.4L194.1,724.5L195.6,724.5L197.1,724.6L198.6,724.7" fill="none" stroke="#3a3a3a" stroke-width="0.9"/>
<path d="M71.2,741.8" fill="none" stroke="none" stroke-width="0.9"/>
<path d="M134.90,704.55V707.53M133.20,704.55H136.60M133.20,707.53H136.60" stroke="#666" stroke-width="0.7" fill="none"/>
<path d="M156.13,679.22V683.69M154.43,679.22H157.83M154.43,683.69H157.83" stroke="#666" stroke-width="0.7" fill="none"/>
<path d="M177.37,651.65V654.63M175.67,651.65H179.07M175.67,654.63H179.07" stroke="#666" stroke-width="0.7" fill="none"/>
<circle cx="71.20" cy="741.80" r="1.80" fill="#000"/>
<circle cx="92.43" cy="733.60" r="1.80" fill="#000"/>
<circle cx="113.67" cy="734.35" r="1.80" fill="#000"/>
<circle cx="134.90" cy="706.04" r="1.80" fill="#000"/>
<circle cx="156.13" cy="681.45" r="1.80" fill="#000"/>
<circle cx="177.37" cy="653.14" r="1.80" fill="#000"/>
<circle cx="198.60" cy="646.44" r="1.80" fill="#000"/>
<circle cx="71.20" cy="741.80" r="1.53" fill="#fff" stroke="#555" stroke-width="0.7"/>
<circle cx="92.43" cy="734.35" r="1.53" fill="#fff" stroke="#555" stroke-width="0.7"/>
<circle cx="113.67" cy="728.39" r="1.53" fill="#fff" stroke="#555" stroke-width="0.7"/>
<circle cx="134.90" cy="726.90" r="1.53" fill="#fff" stroke="#555" stroke-width="0.7"/>
<circle cx="156.13" cy="729.88" r="1.53" fill="#fff" stroke="#555" stroke-width="0.7"/>
<circle cx="177.37" cy="724.66" r="1.53" fill="#fff" stroke="#555" stroke-width="0.7"/>
<circle cx="198.60" cy="726.15" r="1.53" fill="#fff" stroke="#555" stroke-width="0.7"/>
<path d="M134.90,729.13V733.60M133.20,729.13H136.60M133.20,733.60H136.60" stroke="#666" stroke-width="0.7" fill="none"/>
<path d="M69.13,740.56L73.27,740.56L71.20,743.66Z" fill="#fff" stroke="#555" stroke-width="0.6"/>
<path d="M90.36,740.56L94.50,740.56L92.43,743.66Z" fill="#fff" stroke="#555" stroke-width="0.6"/>
<path d="M111.60,732.36L115.74,732.36L113.67,735.47Z" fill="#fff" stroke="#555" stroke-width="0.6"/>
<path d="M132.83,730.13L136.97,730.13L134.90,733.23Z" fill="#fff" stroke="#555" stroke-width="0.6"/>
<path d="M154.06,725.66L158.20,725.66L156.13,728.76Z" fill="#fff" stroke="#555" stroke-width="0.6"/>
<path d="M175.30,721.93L179.44,721.93L177.37,725.04Z" fill="#fff" stroke="#555" stroke-width="0.6"/>
<path d="M196.53,722.68L200.67,722.68L198.60,725.78Z" fill="#fff" stroke="#555" stroke-width="0.6"/>
<path d="M69.13,740.56L73.27,740.56L71.20,743.66Z" fill="#000"/>
<path d="M90.36,740.56L94.50,740.56L92.43,743.66Z" fill="#000"/>
<path d="M111.60,732.36L115.74,732.36L113.67,735.47Z" fill="#000"/>
<path d="M132.83,723.42L136.97,723.42L134.90,726.53Z" fill="#000"/>
<path d="M154.06,719.70L158.20,719.70L156.13,722.80Z" fill="#000"/>
<path d="M175.30,721.93L179.44,721.93L177.37,725.04Z" fill="#000"/>
<path d="M196.53,723.42L200.67,723.42L198.60,726.53Z" fill="#000"/>
<circle cx="71.20" cy="741.80" r="1.53" fill="#fff" stroke="#555" stroke-width="0.7"/>
<text x="128.89" y="656.70" font-size="11.8" text-anchor="start" fill="#1c1c1c">(D)</text>
<line x1="65.90" y1="658.30" x2="92.20" y2="658.30" stroke="#f03c3c" stroke-width="1.2"/>
<circle cx="79.10" cy="658.30" r="1.80" fill="#000"/>
<text x="98.34" y="662.60" font-size="12.0" text-anchor="start" fill="#1c1c1c">FAW</text>
<line x1="65.90" y1="672.80" x2="92.20" y2="672.80" stroke="#9a9af2" stroke-width="2.0"/>
<circle cx="79.10" cy="672.80" r="1.53" fill="#fff" stroke="#333" stroke-width="0.7"/>
<text x="98.34" y="677.10" font-size="12.0" text-anchor="start" fill="#1c1c1c">Bf</text>
<line x1="65.90" y1="687.20" x2="92.20" y2="687.20" stroke="#555" stroke-width="0.9"/>
<path d="M77.03,685.96L81.17,685.96L79.10,689.06Z" fill="#000"/>
<text x="98.34" y="691.50" font-size="12.0" text-anchor="start" fill="#1c1c1c">Sc</text>
<line x1="65.90" y1="702.20" x2="92.20" y2="702.20" stroke="#f080f0" stroke-width="1.6"/>
<path d="M77.03,700.96L81.17,700.96L79.10,704.06Z" fill="#fff" stroke="#333" stroke-width="0.6"/>
<text x="98.34" y="706.50" font-size="12.0" text-anchor="start" fill="#1c1c1c">Cp</text>
<text x="17.30" y="696.10" font-size="11.75" text-anchor="middle" fill="#1c1c1c" transform="rotate(-90 17.30 696.10)">Cannibalism (%)</text>
<rect x="276.50" y="637.30" width="168.25" height="117.20" fill="none" stroke="#8e8e8e" stroke-width="1"/>
<line x1="274.50" y1="754.50" x2="276.50" y2="754.50" stroke="#8e8e8e" stroke-width="1"/>
<text x="268.55" y="758.50" font-size="11.3" text-anchor="end" fill="#1c1c1c">20</text>
<line x1="274.50" y1="731.06" x2="276.50" y2="731.06" stroke="#8e8e8e" stroke-width="1"/>
<text x="268.55" y="735.06" font-size="11.3" text-anchor="end" fill="#1c1c1c">40</text>
<line x1="274.50" y1="707.62" x2="276.50" y2="707.62" stroke="#8e8e8e" stroke-width="1"/>
<text x="268.55" y="711.62" font-size="11.3" text-anchor="end" fill="#1c1c1c">60</text>
<line x1="274.50" y1="684.18" x2="276.50" y2="684.18" stroke="#8e8e8e" stroke-width="1"/>
<text x="268.55" y="688.18" font-size="11.3" text-anchor="end" fill="#1c1c1c">80</text>
<line x1="274.50" y1="660.74" x2="276.50" y2="660.74" stroke="#8e8e8e" stroke-width="1"/>
<text x="268.55" y="664.74" font-size="11.3" text-anchor="end" fill="#1c1c1c">100</text>
<line x1="274.50" y1="637.30" x2="276.50" y2="637.30" stroke="#8e8e8e" stroke-width="1"/>
<text x="268.55" y="641.30" font-size="11.3" text-anchor="end" fill="#1c1c1c">120</text>
<line x1="296.40" y1="754.50" x2="296.40" y2="756.50" stroke="#8e8e8e" stroke-width="1"/>
<text x="296.40" y="772.80" font-size="11.3" text-anchor="middle" fill="#1c1c1c">Neo</text>
<line x1="317.58" y1="754.50" x2="317.58" y2="756.50" stroke="#8e8e8e" stroke-width="1"/>
<text x="317.58" y="772.80" font-size="11.3" text-anchor="middle" fill="#1c1c1c">L1</text>
<line x1="338.77" y1="754.50" x2="338.77" y2="756.50" stroke="#8e8e8e" stroke-width="1"/>
<text x="338.77" y="772.80" font-size="11.3" text-anchor="middle" fill="#1c1c1c">L2</text>
<line x1="359.95" y1="754.50" x2="359.95" y2="756.50" stroke="#8e8e8e" stroke-width="1"/>
<text x="359.95" y="772.80" font-size="11.3" text-anchor="middle" fill="#1c1c1c">L3</text>
<line x1="381.13" y1="754.50" x2="381.13" y2="756.50" stroke="#8e8e8e" stroke-width="1"/>
<text x="381.13" y="772.80" font-size="11.3" text-anchor="middle" fill="#1c1c1c">L4</text>
<line x1="402.32" y1="754.50" x2="402.32" y2="756.50" stroke="#8e8e8e" stroke-width="1"/>
<text x="402.32" y="772.80" font-size="11.3" text-anchor="middle" fill="#1c1c1c">L5</text>
<line x1="423.50" y1="754.50" x2="423.50" y2="756.50" stroke="#8e8e8e" stroke-width="1"/>
<text x="423.50" y="772.80" font-size="11.3" text-anchor="middle" fill="#1c1c1c">L6</text>
<path d="M296.4,660.7L297.9,662.2L299.4,663.7L300.9,665.2L302.4,666.7L303.9,668.1L305.4,669.5L306.9,670.9L308.4,672.3L309.9,673.6L311.4,674.8L312.8,676.0L314.3,677.2L315.8,678.3L317.3,679.3L318.8,680.3L320.3,681.2L321.8,682.0L323.3,682.8L324.8,683.5L326.3,684.2L327.8,684.9L329.3,685.5L330.8,686.2L332.3,686.8L333.8,687.4L335.3,688.0L336.8,688.6L338.3,689.2L339.8,689.9L341.3,690.6L342.8,691.3L344.2,692.0L345.7,692.7L347.2,693.4L348.7,694.1L350.2,694.7L351.7,695.4L353.2,696.0L354.7,696.6L356.2,697.1L357.7,697.6L359.2,698.0L360.7,698.4L362.2,698.7L363.7,699.0L365.2,699.2L366.7,699.4L368.2,699.5L369.7,699.5L371.2,699.6L372.7,699.6L374.2,699.6L375.7,699.6L377.1,699.5L378.6,699.5L380.1,699.4L381.6,699.4L383.1,699.4L384.6,699.3L386.1,699.3L387.6,699.3L389.1,699.3L390.6,699.3L392.1,699.3L393.6,699.3L395.1,699.3L396.6,699.3L398.1,699.3L399.6,699.3L401.1,699.4L402.6,699.4L404.1,699.5L405.6,699.5L407.1,699.6L408.5,699.7L410.0,699.8L411.5,699.8L413.0,699.9L414.5,700.0L416.0,700.1L417.5,700.2L419.0,700.3L420.5,700.4L422.0,700.5L423.5,700.6" fill="none" stroke="#5a5af0" stroke-width="0.9"/>
<path d="M296.4,660.7L297.9,662.8L299.4,664.8L300.9,666.8L302.4,668.7L303.9,670.6L305.4,672.4L306.9,674.1L308.4,675.8L309.9,677.3L311.4,678.7L312.8,680.0L314.3,681.1L315.8,682.1L317.3,682.9L318.8,683.5L320.3,683.9L321.8,684.2L323.3,684.4L324.8,684.5L326.3,684.5L327.8,684.5L329.3,684.4L330.8,684.4L332.3,684.4L333.8,684.4L335.3,684.6L336.8,684.8L338.3,685.2L339.8,685.7L341.3,686.4L342.8,687.3L344.2,688.2L345.7,689.3L347.2,690.4L348.7,691.5L350.2,692.7L351.7,693.9L353.2,695.0L354.7,696.2L356.2,697.2L357.7,698.2L359.2,699.0L360.7,699.8L362.2,700.4L363.7,700.8L365.2,701.2L366.7,701.5L368.2,701.7L369.7,701.8L371.2,701.8L372.7,701.9L374.2,701.8L375.7,701.8L377.1,701.8L378.6,701.8L380.1,701.7L381.6,701.8L383.1,701.8L384.6,701.9L386.1,702.1L387.6,702.2L389.1,702.4L390.6,702.6L392.1,702.8L393.6,703.0L395.1,703.2L396.6,703.4L398.1,703.6L399.6,703.8L401.1,704.0L402.6,704.1L404.1,704.2L405.6,704.3L407.1,704.4L408.5,704.4L410.0,704.5L411.5,704.5L413.0,704.5L414.5,704.4L416.0,704.4L417.5,704.3L419.0,704.3L420.5,704.2L422.0,704.2L423.5,704.1" fill="none" stroke="#3a3a3a" stroke-width="0.9"/>
<path d="M296.4,660.7L297.9,661.6L299.4,662.5L300.9,663.4L302.4,664.3L303.9,665.1L305.4,666.0L306.9,666.9L308.4,667.7L309.9,668.5L311.4,669.3L312.8,670.1L314.3,670.9L315.8,671.6L317.3,672.3L318.8,673.0L320.3,673.7L321.8,674.4L323.3,675.0L324.8,675.6L326.3,676.2L327.8,676.8L329.3,677.3L330.8,677.9L332.3,678.4L333.8,678.9L335.3,679.5L336.8,680.0L338.3,680.5L339.8,681.0L341.3,681.5L342.8,682.0L344.2,682.5L345.7,683.0L347.2,683.5L348.7,684.0L350.2,684.5L351.7,684.9L353.2,685.4L354.7,685.8L356.2,686.2L357.7,686.6L359.2,686.9L360.7,687.3L362.2,687.6L363.7,687.9L365.2,688.1L366.7,688.4L368.2,688.6L369.7,688.8L371.2,689.1L372.7,689.3L374.2,689.5L375.7,689.7L377.1,690.0L378.6,690.2L380.1,690.5L381.6,690.7L383.1,691.0L384.6,691.3L386.1,691.6L387.6,691.9L389.1,692.2L390.6,692.5L392.1,692.9L393.6,693.2L395.1,693.5L396.6,693.8L398.1,694.0L399.6,694.3L401.1,694.5L402.6,694.8L404.1,695.0L405.6,695.1L407.1,695.3L408.5,695.4L410.0,695.5L411.5,695.6L413.0,695.6L414.5,695.7L416.0,695.8L417.5,695.8L419.0,695.8L420.5,695.9L422.0,695.9L423.5,695.9" fill="none" stroke="#f050f0" stroke-width="0.9"/>
<path d="M296.4,660.7L297.9,662.4L299.4,664.1L300.9,665.8L302.4,667.4L303.9,669.0L305.4,670.5L306.9,672.0L308.4,673.4L309.9,674.7L311.4,675.9L312.8,677.0L314.3,677.9L315.8,678.7L317.3,679.4L318.8,679.9L320.3,680.3L321.8,680.6L323.3,680.8L324.8,680.9L326.3,681.1L327.8,681.2L329.3,681.4L330.8,681.6L332.3,682.0L333.8,682.5L335.3,683.1L336.8,683.9L338.3,685.0L339.8,686.2L341.3,687.7L342.8,689.5L344.2,691.3L345.7,693.4L347.2,695.5L348.7,697.7L350.2,700.0L351.7,702.2L353.2,704.5L354.7,706.7L356.2,708.8L357.7,710.8L359.2,712.6L360.7,714.3L362.2,715.8L363.7,717.1L365.2,718.3L366.7,719.3L368.2,720.3L369.7,721.1L371.2,721.8L372.7,722.5L374.2,723.1L375.7,723.7L377.1,724.2L378.6,724.8L380.1,725.4L381.6,726.0L383.1,726.6L384.6,727.3L386.1,728.0L387.6,728.8L389.1,729.5L390.6,730.3L392.1,731.1L393.6,731.8L395.1,732.6L396.6,733.3L398.1,734.1L399.6,734.8L401.1,735.4L402.6,736.1L404.1,736.7L405.6,737.3L407.1,737.8L408.5,738.3L410.0,738.8L411.5,739.2L413.0,739.6L414.5,740.0L416.0,740.4L417.5,740.8L419.0,741.2L420.5,741.5L422.0,741.9L423.5,742.2" fill="none" stroke="#f03c3c" stroke-width="0.9"/>
<path d="M296.4,660.7" fill="none" stroke="none" stroke-width="0.9"/>
<circle cx="296.40" cy="660.74" r="1.53" fill="#fff" stroke="#555" stroke-width="0.7"/>
<circle cx="317.58" cy="679.49" r="1.53" fill="#fff" stroke="#555" stroke-width="0.7"/>
<circle cx="338.77" cy="689.45" r="1.53" fill="#fff" stroke="#555" stroke-width="0.7"/>
<circle cx="359.95" cy="698.24" r="1.53" fill="#fff" stroke="#555" stroke-width="0.7"/>
<circle cx="381.13" cy="699.42" r="1.53" fill="#fff" stroke="#555" stroke-width="0.7"/>
<circle cx="402.32" cy="699.42" r="1.53" fill="#fff" stroke="#555" stroke-width="0.7"/>
<circle cx="423.50" cy="700.59" r="1.53" fill="#fff" stroke="#555" stroke-width="0.7"/>
<path d="M317.58,677.15V688.87M315.88,677.15H319.28M315.88,688.87H319.28" stroke="#666" stroke-width="0.7" fill="none"/>
<path d="M359.95,695.90V702.93M358.25,695.90H361.65M358.25,702.93H361.65" stroke="#666" stroke-width="0.7" fill="none"/>
<path d="M381.13,698.24V705.28M379.43,698.24H382.83M379.43,705.28H382.83" stroke="#666" stroke-width="0.7" fill="none"/>
<path d="M402.32,701.17V707.03M400.62,701.17H404.02M400.62,707.03H404.02" stroke="#666" stroke-width="0.7" fill="none"/>
<path d="M294.33,659.50L298.47,659.50L296.40,662.60Z" fill="#000"/>
<path d="M315.51,681.77L319.65,681.77L317.58,684.87Z" fill="#000"/>
<path d="M336.70,684.11L340.84,684.11L338.77,687.22Z" fill="#000"/>
<path d="M357.88,698.17L362.02,698.17L359.95,701.28Z" fill="#000"/>
<path d="M379.06,700.52L383.20,700.52L381.13,703.62Z" fill="#000"/>
<path d="M400.25,702.86L404.39,702.86L402.32,705.97Z" fill="#000"/>
<path d="M421.43,702.86L425.57,702.86L423.50,705.97Z" fill="#000"/>
<path d="M317.58,667.77V677.15M315.88,667.77H319.28M315.88,677.15H319.28" stroke="#666" stroke-width="0.7" fill="none"/>
<path d="M338.77,673.63V687.70M337.07,673.63H340.47M337.07,687.70H340.47" stroke="#666" stroke-width="0.7" fill="none"/>
<path d="M359.95,680.08V694.14M358.25,680.08H361.65M358.25,694.14H361.65" stroke="#666" stroke-width="0.7" fill="none"/>
<path d="M381.13,684.18V697.07M379.43,684.18H382.83M379.43,697.07H382.83" stroke="#666" stroke-width="0.7" fill="none"/>
<path d="M402.32,688.87V700.59M400.62,688.87H404.02M400.62,700.59H404.02" stroke="#666" stroke-width="0.7" fill="none"/>
<path d="M423.50,690.63V701.17M421.80,690.63H425.20M421.80,701.17H425.20" stroke="#666" stroke-width="0.7" fill="none"/>
<path d="M294.33,659.50L298.47,659.50L296.40,662.60Z" fill="#fff" stroke="#555" stroke-width="0.6"/>
<path d="M315.51,671.22L319.65,671.22L317.58,674.32Z" fill="#fff" stroke="#555" stroke-width="0.6"/>
<path d="M336.70,679.42L340.84,679.42L338.77,682.53Z" fill="#fff" stroke="#555" stroke-width="0.6"/>
<path d="M357.88,685.87L362.02,685.87L359.95,688.97Z" fill="#fff" stroke="#555" stroke-width="0.6"/>
<path d="M379.06,689.38L383.20,689.38L381.13,692.49Z" fill="#fff" stroke="#555" stroke-width="0.6"/>
<path d="M400.25,693.49L404.39,693.49L402.32,696.59Z" fill="#fff" stroke="#555" stroke-width="0.6"/>
<path d="M421.43,694.66L425.57,694.66L423.50,697.76Z" fill="#fff" stroke="#555" stroke-width="0.6"/>
<path d="M359.95,709.96V717.00M358.25,709.96H361.65M358.25,717.00H361.65" stroke="#666" stroke-width="0.7" fill="none"/>
<path d="M381.13,722.97V728.60M379.43,722.97H382.83M379.43,728.60H382.83" stroke="#666" stroke-width="0.7" fill="none"/>
<path d="M402.32,734.22V737.74M400.62,734.22H404.02M400.62,737.74H404.02" stroke="#666" stroke-width="0.7" fill="none"/>
<path d="M423.50,740.79V743.60M421.80,740.79H425.20M421.80,743.60H425.20" stroke="#666" stroke-width="0.7" fill="none"/>
<circle cx="296.40" cy="660.74" r="1.80" fill="#000"/>
<circle cx="317.58" cy="679.49" r="1.80" fill="#000"/>
<circle cx="338.77" cy="685.35" r="1.80" fill="#000"/>
<circle cx="359.95" cy="713.48" r="1.80" fill="#000"/>
<circle cx="381.13" cy="725.79" r="1.80" fill="#000"/>
<circle cx="402.32" cy="735.98" r="1.80" fill="#000"/>
<circle cx="423.50" cy="742.19" r="1.80" fill="#000"/>
<circle cx="296.40" cy="660.74" r="1.53" fill="#fff" stroke="#555" stroke-width="0.7"/>
<text x="331.29" y="656.40" font-size="11.8" text-anchor="start" fill="#1c1c1c">(E)</text>
<line x1="289.10" y1="705.20" x2="314.80" y2="705.20" stroke="#f03c3c" stroke-width="1.2"/>
<circle cx="302.00" cy="705.20" r="1.80" fill="#000"/>
<text x="321.04" y="709.40" font-size="12.0" text-anchor="start" fill="#1c1c1c">FAW</text>
<line x1="289.10" y1="719.70" x2="314.80" y2="719.70" stroke="#9a9af2" stroke-width="2.0"/>
<circle cx="302.00" cy="719.70" r="1.53" fill="#fff" stroke="#333" stroke-width="0.7"/>
<text x="321.04" y="723.90" font-size="12.0" text-anchor="start" fill="#1c1c1c">Bf</text>
<line x1="289.10" y1="734.30" x2="314.80" y2="734.30" stroke="#555" stroke-width="0.9"/>
<path d="M299.93,733.06L304.07,733.06L302.00,736.16Z" fill="#000"/>
<text x="321.04" y="738.50" font-size="12.0" text-anchor="start" fill="#1c1c1c">Sc</text>
<line x1="289.10" y1="749.00" x2="314.80" y2="749.00" stroke="#f080f0" stroke-width="1.6"/>
<path d="M299.93,747.76L304.07,747.76L302.00,750.86Z" fill="#fff" stroke="#333" stroke-width="0.6"/>
<text x="321.04" y="753.20" font-size="12.0" text-anchor="start" fill="#1c1c1c">Cp</text>
<text x="237.00" y="695.60" font-size="11.8" text-anchor="middle" fill="#1c1c1c" transform="rotate(-90 237.00 695.60)">Survival (%)</text>
<rect x="502.70" y="639.60" width="168.80" height="118.70" fill="none" stroke="#8e8e8e" stroke-width="1"/>
<line x1="500.70" y1="744.80" x2="502.70" y2="744.80" stroke="#8e8e8e" stroke-width="1"/>
<text x="494.56" y="748.87" font-size="11.5" text-anchor="end" fill="#1c1c1c">0</text>
<line x1="500.70" y1="729.77" x2="502.70" y2="729.77" stroke="#8e8e8e" stroke-width="1"/>
<text x="494.56" y="733.84" font-size="11.5" text-anchor="end" fill="#1c1c1c">5</text>
<line x1="500.70" y1="714.74" x2="502.70" y2="714.74" stroke="#8e8e8e" stroke-width="1"/>
<text x="494.56" y="718.81" font-size="11.5" text-anchor="end" fill="#1c1c1c">10</text>
<line x1="500.70" y1="699.71" x2="502.70" y2="699.71" stroke="#8e8e8e" stroke-width="1"/>
<text x="494.56" y="703.79" font-size="11.5" text-anchor="end" fill="#1c1c1c">15</text>
<line x1="500.70" y1="684.69" x2="502.70" y2="684.69" stroke="#8e8e8e" stroke-width="1"/>
<text x="494.56" y="688.76" font-size="11.5" text-anchor="end" fill="#1c1c1c">20</text>
<line x1="500.70" y1="669.66" x2="502.70" y2="669.66" stroke="#8e8e8e" stroke-width="1"/>
<text x="494.56" y="673.73" font-size="11.5" text-anchor="end" fill="#1c1c1c">25</text>
<line x1="500.70" y1="654.63" x2="502.70" y2="654.63" stroke="#8e8e8e" stroke-width="1"/>
<text x="494.56" y="658.70" font-size="11.5" text-anchor="end" fill="#1c1c1c">30</text>
<line x1="500.70" y1="639.60" x2="502.70" y2="639.60" stroke="#8e8e8e" stroke-width="1"/>
<text x="494.56" y="643.67" font-size="11.5" text-anchor="end" fill="#1c1c1c">35</text>
<line x1="523.20" y1="758.30" x2="523.20" y2="760.30" stroke="#8e8e8e" stroke-width="1"/>
<text x="523.20" y="776.60" font-size="11.5" text-anchor="middle" fill="#1c1c1c">Neo</text>
<line x1="544.40" y1="758.30" x2="544.40" y2="760.30" stroke="#8e8e8e" stroke-width="1"/>
<text x="544.40" y="776.60" font-size="11.5" text-anchor="middle" fill="#1c1c1c">L1</text>
<line x1="565.60" y1="758.30" x2="565.60" y2="760.30" stroke="#8e8e8e" stroke-width="1"/>
<text x="565.60" y="776.60" font-size="11.5" text-anchor="middle" fill="#1c1c1c">L2</text>
<line x1="586.80" y1="758.30" x2="586.80" y2="760.30" stroke="#8e8e8e" stroke-width="1"/>
<text x="586.80" y="776.60" font-size="11.5" text-anchor="middle" fill="#1c1c1c">L3</text>
<line x1="608.00" y1="758.30" x2="608.00" y2="760.30" stroke="#8e8e8e" stroke-width="1"/>
<text x="608.00" y="776.60" font-size="11.5" text-anchor="middle" fill="#1c1c1c">L4</text>
<line x1="629.20" y1="758.30" x2="629.20" y2="760.30" stroke="#8e8e8e" stroke-width="1"/>
<text x="629.20" y="776.60" font-size="11.5" text-anchor="middle" fill="#1c1c1c">L5</text>
<line x1="650.40" y1="758.30" x2="650.40" y2="760.30" stroke="#8e8e8e" stroke-width="1"/>
<text x="650.40" y="776.60" font-size="11.5" text-anchor="middle" fill="#1c1c1c">L6</text>
<path d="M523.2,744.8L524.7,744.9L526.2,745.1L527.7,745.2L529.2,745.3L530.7,745.4L532.2,745.5L533.7,745.5L535.2,745.6L536.7,745.6L538.2,745.5L539.7,745.4L541.2,745.3L542.7,745.1L544.2,744.8L545.6,744.5L547.1,744.2L548.6,743.8L550.1,743.3L551.6,742.8L553.1,742.2L554.6,741.6L556.1,740.9L557.6,740.2L559.1,739.5L560.6,738.7L562.1,737.9L563.6,737.0L565.1,736.1L566.6,735.2L568.1,734.2L569.6,733.2L571.1,732.2L572.6,731.1L574.1,730.0L575.6,728.9L577.1,727.8L578.6,726.6L580.1,725.4L581.6,724.2L583.1,723.0L584.6,721.8L586.1,720.5L587.5,719.2L589.0,717.9L590.5,716.6L592.0,715.4L593.5,714.1L595.0,712.9L596.5,711.8L598.0,710.8L599.5,709.9L601.0,709.1L602.5,708.4L604.0,707.8L605.5,707.5L607.0,707.3L608.5,707.2L610.0,707.4L611.5,707.8L613.0,708.3L614.5,709.0L616.0,709.7L617.5,710.6L619.0,711.5L620.5,712.5L622.0,713.5L623.5,714.6L625.0,715.6L626.5,716.6L628.0,717.6L629.4,718.5L630.9,719.3L632.4,720.1L633.9,720.7L635.4,721.4L636.9,721.9L638.4,722.4L639.9,722.9L641.4,723.3L642.9,723.7L644.4,724.0L645.9,724.4L647.4,724.7L648.9,725.0L650.4,725.3" fill="none" stroke="#3a3a3a" stroke-width="0.9"/>
<path d="M523.2,744.8L524.7,744.6L526.2,744.3L527.7,744.1L529.2,743.8L530.7,743.5L532.2,743.2L533.7,742.8L535.2,742.3L536.7,741.9L538.2,741.3L539.7,740.7L541.2,740.0L542.7,739.2L544.2,738.3L545.6,737.4L547.1,736.3L548.6,735.2L550.1,734.0L551.6,732.8L553.1,731.6L554.6,730.4L556.1,729.2L557.6,728.0L559.1,726.9L560.6,725.9L562.1,724.9L563.6,724.1L565.1,723.4L566.6,722.8L568.1,722.3L569.6,722.0L571.1,721.8L572.6,721.6L574.1,721.5L575.6,721.4L577.1,721.3L578.6,721.2L580.1,721.1L581.6,721.0L583.1,720.8L584.6,720.5L586.1,720.1L587.5,719.6L589.0,718.9L590.5,718.2L592.0,717.4L593.5,716.6L595.0,715.7L596.5,714.9L598.0,714.1L599.5,713.3L601.0,712.7L602.5,712.2L604.0,711.8L605.5,711.6L607.0,711.6L608.5,711.8L610.0,712.3L611.5,713.0L613.0,713.9L614.5,714.9L616.0,716.0L617.5,717.2L619.0,718.5L620.5,719.8L622.0,721.2L623.5,722.5L625.0,723.7L626.5,724.9L628.0,726.0L629.4,726.9L630.9,727.7L632.4,728.3L633.9,728.8L635.4,729.1L636.9,729.4L638.4,729.5L639.9,729.6L641.4,729.5L642.9,729.4L644.4,729.3L645.9,729.1L647.4,728.8L648.9,728.5L650.4,728.3" fill="none" stroke="#f050f0" stroke-width="0.9"/>
<path d="M523.2,744.8L524.7,744.3L526.2,743.8L527.7,743.3L529.2,742.8L530.7,742.3L532.2,741.8L533.7,741.4L535.2,740.9L536.7,740.5L538.2,740.1L539.7,739.8L541.2,739.4L542.7,739.1L544.2,738.8L545.6,738.6L547.1,738.4L548.6,738.1L550.1,737.9L551.6,737.6L553.1,737.2L554.6,736.7L556.1,736.1L557.6,735.4L559.1,734.5L560.6,733.4L562.1,732.2L563.6,730.7L565.1,728.9L566.6,726.9L568.1,724.6L569.6,722.2L571.1,719.7L572.6,717.0L574.1,714.4L575.6,711.8L577.1,709.3L578.6,707.0L580.1,704.9L581.6,703.1L583.1,701.6L584.6,700.5L586.1,699.9L587.5,699.7L589.0,700.1L590.5,700.9L592.0,702.1L593.5,703.6L595.0,705.4L596.5,707.4L598.0,709.5L599.5,711.8L601.0,714.0L602.5,716.2L604.0,718.4L605.5,720.4L607.0,722.1L608.5,723.6L610.0,724.8L611.5,725.7L613.0,726.4L614.5,726.9L616.0,727.2L617.5,727.3L619.0,727.3L620.5,727.2L622.0,727.0L623.5,726.8L625.0,726.6L626.5,726.4L628.0,726.2L629.4,726.2L630.9,726.2L632.4,726.3L633.9,726.5L635.4,726.7L636.9,727.1L638.4,727.5L639.9,728.0L641.4,728.5L642.9,729.0L644.4,729.6L645.9,730.2L647.4,730.9L648.9,731.5L650.4,732.2" fill="none" stroke="#5a5af0" stroke-width="0.9"/>
<path d="M523.2,744.8L524.7,743.7L526.2,742.7L527.7,741.6L529.2,740.5L530.7,739.4L532.2,738.3L533.7,737.2L535.2,736.1L536.7,734.9L538.2,733.7L539.7,732.5L541.2,731.3L542.7,730.1L544.2,728.8L545.6,727.5L547.1,726.1L548.6,724.7L550.1,723.1L551.6,721.5L553.1,719.7L554.6,717.8L556.1,715.7L557.6,713.5L559.1,711.0L560.6,708.3L562.1,705.3L563.6,702.1L565.1,698.6L566.6,694.7L568.1,690.6L569.6,686.4L571.1,682.0L572.6,677.7L574.1,673.5L575.6,669.4L577.1,665.6L578.6,662.1L580.1,659.1L581.6,656.6L583.1,654.7L584.6,653.4L586.1,653.0L587.5,653.5L589.0,654.7L590.5,656.8L592.0,659.5L593.5,662.8L595.0,666.6L596.5,670.7L598.0,675.1L599.5,679.7L601.0,684.3L602.5,689.0L604.0,693.5L605.5,697.8L607.0,701.8L608.5,705.4L610.0,708.5L611.5,711.2L613.0,713.4L614.5,715.4L616.0,717.0L617.5,718.3L619.0,719.4L620.5,720.2L622.0,720.9L623.5,721.5L625.0,721.9L626.5,722.3L628.0,722.6L629.4,722.9L630.9,723.3L632.4,723.7L633.9,724.1L635.4,724.5L636.9,725.0L638.4,725.5L639.9,726.0L641.4,726.5L642.9,727.0L644.4,727.5L645.9,728.1L647.4,728.6L648.9,729.2L650.4,729.8" fill="none" stroke="#f03c3c" stroke-width="0.9"/>
<path d="M523.2,744.8" fill="none" stroke="none" stroke-width="0.9"/>
<path d="M608.00,704.22V710.23M606.30,704.22H609.70M606.30,710.23H609.70" stroke="#666" stroke-width="0.7" fill="none"/>
<path d="M629.20,715.95V720.75M627.50,715.95H630.90M627.50,720.75H630.90" stroke="#666" stroke-width="0.7" fill="none"/>
<path d="M650.40,722.86V727.67M648.70,722.86H652.10M648.70,727.67H652.10" stroke="#666" stroke-width="0.7" fill="none"/>
<path d="M521.13,743.56L525.27,743.56L523.20,746.66Z" fill="#000"/>
<path d="M542.33,743.56L546.47,743.56L544.40,746.66Z" fill="#000"/>
<path d="M563.53,734.54L567.67,734.54L565.60,737.65Z" fill="#000"/>
<path d="M584.73,718.61L588.87,718.61L586.80,721.72Z" fill="#000"/>
<path d="M605.93,705.99L610.07,705.99L608.00,709.09Z" fill="#000"/>
<path d="M627.13,717.11L631.27,717.11L629.20,720.21Z" fill="#000"/>
<path d="M648.33,724.02L652.47,724.02L650.40,727.13Z" fill="#000"/>
<path d="M521.13,743.56L525.27,743.56L523.20,746.66Z" fill="#fff" stroke="#555" stroke-width="0.6"/>
<path d="M542.33,736.95L546.47,736.95L544.40,740.05Z" fill="#fff" stroke="#555" stroke-width="0.6"/>
<path d="M563.53,721.92L567.67,721.92L565.60,725.02Z" fill="#fff" stroke="#555" stroke-width="0.6"/>
<path d="M584.73,718.61L588.87,718.61L586.80,721.72Z" fill="#fff" stroke="#555" stroke-width="0.6"/>
<path d="M605.93,710.50L610.07,710.50L608.00,713.60Z" fill="#fff" stroke="#555" stroke-width="0.6"/>
<path d="M627.13,725.52L631.27,725.52L629.20,728.63Z" fill="#fff" stroke="#555" stroke-width="0.6"/>
<path d="M648.33,727.03L652.47,727.03L650.40,730.13Z" fill="#fff" stroke="#555" stroke-width="0.6"/>
<circle cx="523.20" cy="744.80" r="1.53" fill="#fff" stroke="#555" stroke-width="0.7"/>
<circle cx="544.40" cy="738.79" r="1.53" fill="#fff" stroke="#555" stroke-width="0.7"/>
<circle cx="565.60" cy="728.27" r="1.53" fill="#fff" stroke="#555" stroke-width="0.7"/>
<circle cx="586.80" cy="699.71" r="1.53" fill="#fff" stroke="#555" stroke-width="0.7"/>
<circle cx="608.00" cy="723.16" r="1.53" fill="#fff" stroke="#555" stroke-width="0.7"/>
<circle cx="629.20" cy="726.16" r="1.53" fill="#fff" stroke="#555" stroke-width="0.7"/>
<rect x="648.87" y="730.65" width="3.06" height="3.06" fill="#fff" stroke="#555" stroke-width="0.7"/>
<path d="M565.60,694.30V700.32M563.90,694.30H567.30M563.90,700.32H567.30" stroke="#666" stroke-width="0.7" fill="none"/>
<path d="M586.80,650.12V656.13M585.10,650.12H588.50M585.10,656.13H588.50" stroke="#666" stroke-width="0.7" fill="none"/>
<path d="M608.00,701.22V707.23M606.30,701.22H609.70M606.30,707.23H609.70" stroke="#666" stroke-width="0.7" fill="none"/>
<circle cx="523.20" cy="744.80" r="1.80" fill="#000"/>
<circle cx="544.40" cy="728.57" r="1.80" fill="#000"/>
<circle cx="565.60" cy="697.31" r="1.80" fill="#000"/>
<circle cx="586.80" cy="653.13" r="1.80" fill="#000"/>
<circle cx="608.00" cy="704.22" r="1.80" fill="#000"/>
<circle cx="629.20" cy="722.86" r="1.80" fill="#000"/>
<circle cx="650.40" cy="729.77" r="1.80" fill="#000"/>
<circle cx="523.20" cy="744.80" r="1.53" fill="#fff" stroke="#555" stroke-width="0.7"/>
<text x="648.09" y="659.50" font-size="11.8" text-anchor="start" fill="#1c1c1c">(F)</text>
<line x1="512.00" y1="661.40" x2="538.20" y2="661.40" stroke="#f03c3c" stroke-width="1.2"/>
<circle cx="525.20" cy="661.40" r="1.80" fill="#000"/>
<text x="544.14" y="665.70" font-size="12.0" text-anchor="start" fill="#1c1c1c">FAW</text>
<line x1="512.00" y1="676.30" x2="538.20" y2="676.30" stroke="#7a7af2" stroke-width="1.4"/>
<circle cx="525.20" cy="676.30" r="1.53" fill="#fff" stroke="#333" stroke-width="0.7"/>
<text x="544.14" y="680.60" font-size="12.0" text-anchor="start" fill="#1c1c1c">Bf</text>
<line x1="512.00" y1="690.60" x2="538.20" y2="690.60" stroke="#666" stroke-width="0.9"/>
<path d="M523.13,689.36L527.27,689.36L525.20,692.46Z" fill="#000"/>
<text x="544.14" y="694.90" font-size="12.0" text-anchor="start" fill="#1c1c1c">Sc</text>
<line x1="512.00" y1="705.40" x2="538.20" y2="705.40" stroke="#f060f0" stroke-width="1.4"/>
<path d="M523.13,704.16L527.27,704.16L525.20,707.26Z" fill="#fff" stroke="#333" stroke-width="0.6"/>
<text x="544.14" y="709.70" font-size="12.0" text-anchor="start" fill="#1c1c1c">Cp</text>
<text x="469.70" y="699.00" font-size="11.85" text-anchor="middle" fill="#1c1c1c" transform="rotate(-90 469.70 699.00)">Mean RGR (mg/day)</text>
<text x="135.15" y="796.80" font-size="11.75" text-anchor="middle" fill="#1c1c1c">Larval development instars</text>
<text x="359.60" y="797.90" font-size="11.75" text-anchor="middle" fill="#1c1c1c">Larval development instars</text>
<text x="590.20" y="798.90" font-size="11.75" text-anchor="middle" fill="#1c1c1c">Larval development instars</text>
</svg>
</body></html>
